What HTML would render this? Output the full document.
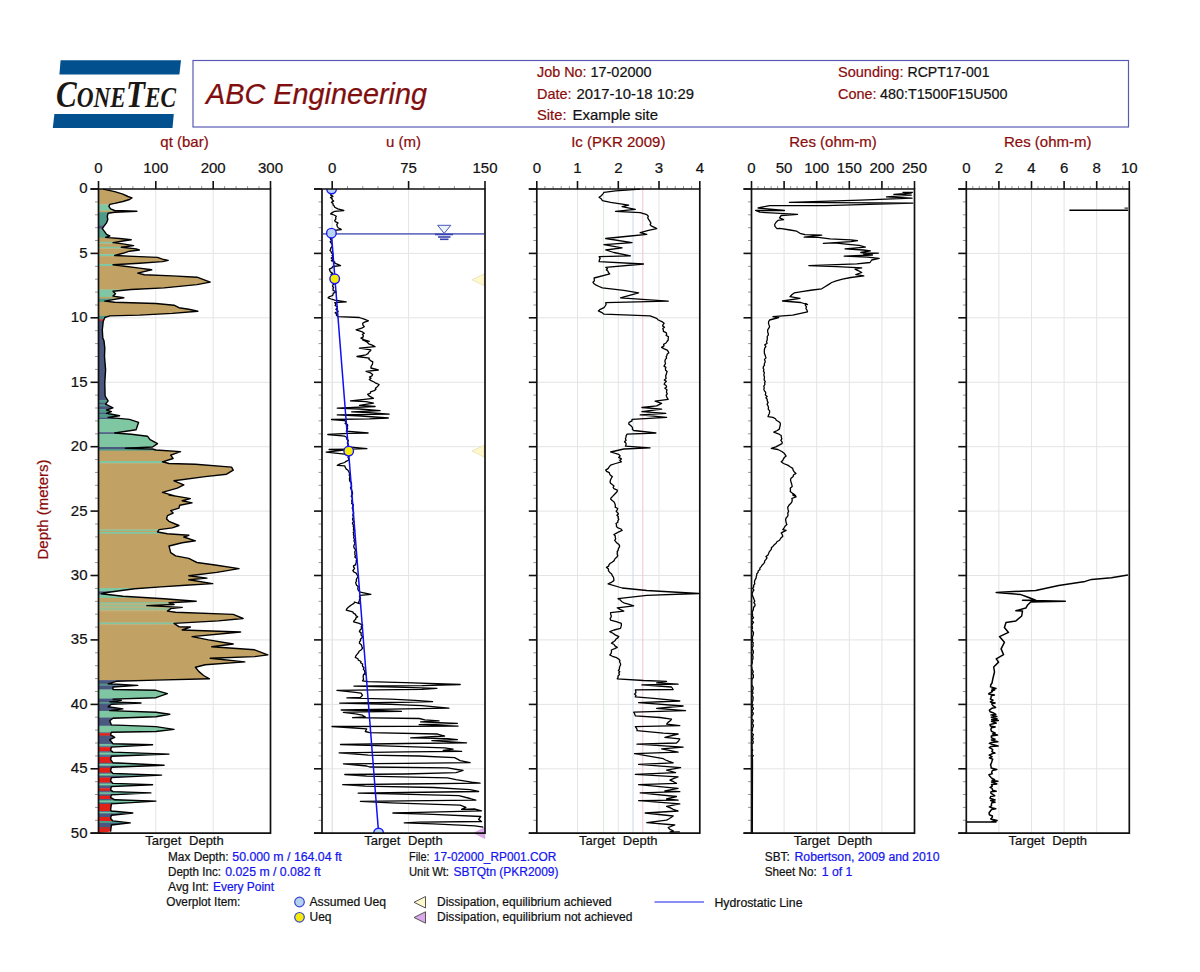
<!DOCTYPE html><html><head><meta charset="utf-8"><style>html,body{margin:0;padding:0;background:#fff;overflow:hidden;width:1200px;height:972px;}svg{display:block;}</style></head><body>
<svg width="1200" height="972" viewBox="0 0 1200 972" font-family="Liberation Sans, sans-serif">
<rect width="1200" height="972" fill="#fff"/>
<polygon points="60.6,60.2 181,60.2 179.4,74.4 59.4,74.4" fill="#03508F"/>
<polygon points="54.4,114 173.8,114 172.5,128.1 52.8,128.1" fill="#03508F"/>
<text x="56" y="107" font-family="Liberation Serif, serif" font-style="italic" font-weight="bold" fill="#1a1714" textLength="120" lengthAdjust="spacingAndGlyphs"><tspan font-size="38">C</tspan><tspan font-size="28.5">ONE</tspan><tspan font-size="38">T</tspan><tspan font-size="28.5">EC</tspan></text>
<rect x="193" y="60.5" width="935.5" height="66.5" fill="none" stroke="#5A5AB4" stroke-width="1.2"/>
<text x="206" y="104" font-size="29.5" font-style="italic" fill="#800E0E" textLength="221" lengthAdjust="spacingAndGlyphs" stroke="#800E0E" stroke-width="0.22">ABC Engineering</text>
<text x="537.0" y="77.0" font-size="15" fill="#8A0C0C" textLength="49.5" lengthAdjust="spacingAndGlyphs" stroke="#8A0C0C" stroke-width="0.22">Job No:</text>
<text x="590.5" y="77.0" font-size="15" fill="#111" textLength="61.0" lengthAdjust="spacingAndGlyphs" stroke="#111" stroke-width="0.22">17-02000</text>
<text x="537.0" y="98.5" font-size="15" fill="#8A0C0C" textLength="34.5" lengthAdjust="spacingAndGlyphs" stroke="#8A0C0C" stroke-width="0.22">Date:</text>
<text x="576.5" y="98.5" font-size="15" fill="#111" textLength="117.5" lengthAdjust="spacingAndGlyphs" stroke="#111" stroke-width="0.22">2017-10-18 10:29</text>
<text x="537.0" y="120.0" font-size="15" fill="#8A0C0C" textLength="29.5" lengthAdjust="spacingAndGlyphs" stroke="#8A0C0C" stroke-width="0.22">Site:</text>
<text x="572.5" y="120.0" font-size="15" fill="#111" textLength="85.5" lengthAdjust="spacingAndGlyphs" stroke="#111" stroke-width="0.22">Example site</text>
<text x="838.0" y="77.0" font-size="15" fill="#8A0C0C" textLength="65.5" lengthAdjust="spacingAndGlyphs" stroke="#8A0C0C" stroke-width="0.22">Sounding:</text>
<text x="907.5" y="77.0" font-size="15" fill="#111" textLength="82.0" lengthAdjust="spacingAndGlyphs" stroke="#111" stroke-width="0.22">RCPT17-001</text>
<text x="838.0" y="98.5" font-size="15" fill="#8A0C0C" textLength="38.5" lengthAdjust="spacingAndGlyphs" stroke="#8A0C0C" stroke-width="0.22">Cone:</text>
<text x="880.0" y="98.5" font-size="15" fill="#111" textLength="127.5" lengthAdjust="spacingAndGlyphs" stroke="#111" stroke-width="0.22">480:T1500F15U500</text>
<text transform="translate(47.5,509.5) rotate(-90)" text-anchor="middle" font-size="15" fill="#8A0C0C" stroke="#8A0C0C" stroke-width="0.22">Depth (meters)</text>
<text x="184.5" y="146.5" text-anchor="middle" font-size="15" fill="#8A0C0C" stroke="#8A0C0C" stroke-width="0.22">qt (bar)</text>
<text x="184.5" y="844.5" text-anchor="middle" font-size="13" fill="#111" word-spacing="4" stroke="#111" stroke-width="0.22">Target Depth</text>
<line x1="98.5" y1="253.4" x2="270.5" y2="253.4" stroke="#E4E4E4" stroke-width="1"/>
<line x1="98.5" y1="317.8" x2="270.5" y2="317.8" stroke="#E4E4E4" stroke-width="1"/>
<line x1="98.5" y1="382.3" x2="270.5" y2="382.3" stroke="#E4E4E4" stroke-width="1"/>
<line x1="98.5" y1="446.7" x2="270.5" y2="446.7" stroke="#E4E4E4" stroke-width="1"/>
<line x1="98.5" y1="511.1" x2="270.5" y2="511.1" stroke="#E4E4E4" stroke-width="1"/>
<line x1="98.5" y1="575.5" x2="270.5" y2="575.5" stroke="#E4E4E4" stroke-width="1"/>
<line x1="98.5" y1="639.9" x2="270.5" y2="639.9" stroke="#E4E4E4" stroke-width="1"/>
<line x1="98.5" y1="704.4" x2="270.5" y2="704.4" stroke="#E4E4E4" stroke-width="1"/>
<line x1="98.5" y1="768.8" x2="270.5" y2="768.8" stroke="#E4E4E4" stroke-width="1"/>
<line x1="155.8" y1="189.0" x2="155.8" y2="833.2" stroke="#E4E4E4" stroke-width="1"/>
<line x1="213.2" y1="189.0" x2="213.2" y2="833.2" stroke="#E4E4E4" stroke-width="1"/>
<text x="98.5" y="173" text-anchor="middle" font-size="15" fill="#111" stroke="#111" stroke-width="0.22">0</text>
<line x1="98.5" y1="181" x2="98.5" y2="189.0" stroke="#111" stroke-width="1.6"/>
<text x="155.8" y="173" text-anchor="middle" font-size="15" fill="#111" stroke="#111" stroke-width="0.22">100</text>
<line x1="155.8" y1="181" x2="155.8" y2="189.0" stroke="#111" stroke-width="1.6"/>
<text x="213.2" y="173" text-anchor="middle" font-size="15" fill="#111" stroke="#111" stroke-width="0.22">200</text>
<line x1="213.2" y1="181" x2="213.2" y2="189.0" stroke="#111" stroke-width="1.6"/>
<text x="270.5" y="173" text-anchor="middle" font-size="15" fill="#111" stroke="#111" stroke-width="0.22">300</text>
<line x1="270.5" y1="181" x2="270.5" y2="189.0" stroke="#111" stroke-width="1.6"/>
<line x1="110.0" y1="186" x2="110.0" y2="189.0" stroke="#999" stroke-width="1"/>
<line x1="121.4" y1="186" x2="121.4" y2="189.0" stroke="#999" stroke-width="1"/>
<line x1="132.9" y1="186" x2="132.9" y2="189.0" stroke="#999" stroke-width="1"/>
<line x1="144.4" y1="186" x2="144.4" y2="189.0" stroke="#999" stroke-width="1"/>
<line x1="167.3" y1="186" x2="167.3" y2="189.0" stroke="#999" stroke-width="1"/>
<line x1="178.8" y1="186" x2="178.8" y2="189.0" stroke="#999" stroke-width="1"/>
<line x1="190.2" y1="186" x2="190.2" y2="189.0" stroke="#999" stroke-width="1"/>
<line x1="201.7" y1="186" x2="201.7" y2="189.0" stroke="#999" stroke-width="1"/>
<line x1="224.6" y1="186" x2="224.6" y2="189.0" stroke="#999" stroke-width="1"/>
<line x1="236.1" y1="186" x2="236.1" y2="189.0" stroke="#999" stroke-width="1"/>
<line x1="247.6" y1="186" x2="247.6" y2="189.0" stroke="#999" stroke-width="1"/>
<line x1="259.0" y1="186" x2="259.0" y2="189.0" stroke="#999" stroke-width="1"/>
<line x1="90.5" y1="189.0" x2="98.5" y2="189.0" stroke="#111" stroke-width="1.6"/>
<line x1="95.0" y1="201.9" x2="98.5" y2="201.9" stroke="#999" stroke-width="1"/>
<line x1="95.0" y1="214.8" x2="98.5" y2="214.8" stroke="#999" stroke-width="1"/>
<line x1="95.0" y1="227.7" x2="98.5" y2="227.7" stroke="#999" stroke-width="1"/>
<line x1="95.0" y1="240.5" x2="98.5" y2="240.5" stroke="#999" stroke-width="1"/>
<line x1="90.5" y1="253.4" x2="98.5" y2="253.4" stroke="#111" stroke-width="1.6"/>
<line x1="95.0" y1="266.3" x2="98.5" y2="266.3" stroke="#999" stroke-width="1"/>
<line x1="95.0" y1="279.2" x2="98.5" y2="279.2" stroke="#999" stroke-width="1"/>
<line x1="95.0" y1="292.1" x2="98.5" y2="292.1" stroke="#999" stroke-width="1"/>
<line x1="95.0" y1="305.0" x2="98.5" y2="305.0" stroke="#999" stroke-width="1"/>
<line x1="90.5" y1="317.8" x2="98.5" y2="317.8" stroke="#111" stroke-width="1.6"/>
<line x1="95.0" y1="330.7" x2="98.5" y2="330.7" stroke="#999" stroke-width="1"/>
<line x1="95.0" y1="343.6" x2="98.5" y2="343.6" stroke="#999" stroke-width="1"/>
<line x1="95.0" y1="356.5" x2="98.5" y2="356.5" stroke="#999" stroke-width="1"/>
<line x1="95.0" y1="369.4" x2="98.5" y2="369.4" stroke="#999" stroke-width="1"/>
<line x1="90.5" y1="382.3" x2="98.5" y2="382.3" stroke="#111" stroke-width="1.6"/>
<line x1="95.0" y1="395.1" x2="98.5" y2="395.1" stroke="#999" stroke-width="1"/>
<line x1="95.0" y1="408.0" x2="98.5" y2="408.0" stroke="#999" stroke-width="1"/>
<line x1="95.0" y1="420.9" x2="98.5" y2="420.9" stroke="#999" stroke-width="1"/>
<line x1="95.0" y1="433.8" x2="98.5" y2="433.8" stroke="#999" stroke-width="1"/>
<line x1="90.5" y1="446.7" x2="98.5" y2="446.7" stroke="#111" stroke-width="1.6"/>
<line x1="95.0" y1="459.6" x2="98.5" y2="459.6" stroke="#999" stroke-width="1"/>
<line x1="95.0" y1="472.4" x2="98.5" y2="472.4" stroke="#999" stroke-width="1"/>
<line x1="95.0" y1="485.3" x2="98.5" y2="485.3" stroke="#999" stroke-width="1"/>
<line x1="95.0" y1="498.2" x2="98.5" y2="498.2" stroke="#999" stroke-width="1"/>
<line x1="90.5" y1="511.1" x2="98.5" y2="511.1" stroke="#111" stroke-width="1.6"/>
<line x1="95.0" y1="524.0" x2="98.5" y2="524.0" stroke="#999" stroke-width="1"/>
<line x1="95.0" y1="536.9" x2="98.5" y2="536.9" stroke="#999" stroke-width="1"/>
<line x1="95.0" y1="549.8" x2="98.5" y2="549.8" stroke="#999" stroke-width="1"/>
<line x1="95.0" y1="562.6" x2="98.5" y2="562.6" stroke="#999" stroke-width="1"/>
<line x1="90.5" y1="575.5" x2="98.5" y2="575.5" stroke="#111" stroke-width="1.6"/>
<line x1="95.0" y1="588.4" x2="98.5" y2="588.4" stroke="#999" stroke-width="1"/>
<line x1="95.0" y1="601.3" x2="98.5" y2="601.3" stroke="#999" stroke-width="1"/>
<line x1="95.0" y1="614.2" x2="98.5" y2="614.2" stroke="#999" stroke-width="1"/>
<line x1="95.0" y1="627.1" x2="98.5" y2="627.1" stroke="#999" stroke-width="1"/>
<line x1="90.5" y1="639.9" x2="98.5" y2="639.9" stroke="#111" stroke-width="1.6"/>
<line x1="95.0" y1="652.8" x2="98.5" y2="652.8" stroke="#999" stroke-width="1"/>
<line x1="95.0" y1="665.7" x2="98.5" y2="665.7" stroke="#999" stroke-width="1"/>
<line x1="95.0" y1="678.6" x2="98.5" y2="678.6" stroke="#999" stroke-width="1"/>
<line x1="95.0" y1="691.5" x2="98.5" y2="691.5" stroke="#999" stroke-width="1"/>
<line x1="90.5" y1="704.4" x2="98.5" y2="704.4" stroke="#111" stroke-width="1.6"/>
<line x1="95.0" y1="717.2" x2="98.5" y2="717.2" stroke="#999" stroke-width="1"/>
<line x1="95.0" y1="730.1" x2="98.5" y2="730.1" stroke="#999" stroke-width="1"/>
<line x1="95.0" y1="743.0" x2="98.5" y2="743.0" stroke="#999" stroke-width="1"/>
<line x1="95.0" y1="755.9" x2="98.5" y2="755.9" stroke="#999" stroke-width="1"/>
<line x1="90.5" y1="768.8" x2="98.5" y2="768.8" stroke="#111" stroke-width="1.6"/>
<line x1="95.0" y1="781.7" x2="98.5" y2="781.7" stroke="#999" stroke-width="1"/>
<line x1="95.0" y1="794.5" x2="98.5" y2="794.5" stroke="#999" stroke-width="1"/>
<line x1="95.0" y1="807.4" x2="98.5" y2="807.4" stroke="#999" stroke-width="1"/>
<line x1="95.0" y1="820.3" x2="98.5" y2="820.3" stroke="#999" stroke-width="1"/>
<line x1="90.5" y1="833.2" x2="98.5" y2="833.2" stroke="#111" stroke-width="1.6"/>
<text x="87.5" y="193.4" text-anchor="end" font-size="15" fill="#111" stroke="#111" stroke-width="0.22">0</text>
<text x="87.5" y="257.8" text-anchor="end" font-size="15" fill="#111" stroke="#111" stroke-width="0.22">5</text>
<text x="87.5" y="322.2" text-anchor="end" font-size="15" fill="#111" stroke="#111" stroke-width="0.22">10</text>
<text x="87.5" y="386.7" text-anchor="end" font-size="15" fill="#111" stroke="#111" stroke-width="0.22">15</text>
<text x="87.5" y="451.1" text-anchor="end" font-size="15" fill="#111" stroke="#111" stroke-width="0.22">20</text>
<text x="87.5" y="515.5" text-anchor="end" font-size="15" fill="#111" stroke="#111" stroke-width="0.22">25</text>
<text x="87.5" y="579.9" text-anchor="end" font-size="15" fill="#111" stroke="#111" stroke-width="0.22">30</text>
<text x="87.5" y="644.3" text-anchor="end" font-size="15" fill="#111" stroke="#111" stroke-width="0.22">35</text>
<text x="87.5" y="708.8" text-anchor="end" font-size="15" fill="#111" stroke="#111" stroke-width="0.22">40</text>
<text x="87.5" y="773.2" text-anchor="end" font-size="15" fill="#111" stroke="#111" stroke-width="0.22">45</text>
<text x="87.5" y="837.6" text-anchor="end" font-size="15" fill="#111" stroke="#111" stroke-width="0.22">50</text>
<text x="403.5" y="146.5" text-anchor="middle" font-size="15" fill="#8A0C0C" stroke="#8A0C0C" stroke-width="0.22">u (m)</text>
<text x="403.5" y="844.5" text-anchor="middle" font-size="13" fill="#111" word-spacing="4" stroke="#111" stroke-width="0.22">Target Depth</text>
<line x1="322.0" y1="253.4" x2="485.0" y2="253.4" stroke="#E4E4E4" stroke-width="1"/>
<line x1="322.0" y1="317.8" x2="485.0" y2="317.8" stroke="#E4E4E4" stroke-width="1"/>
<line x1="322.0" y1="382.3" x2="485.0" y2="382.3" stroke="#E4E4E4" stroke-width="1"/>
<line x1="322.0" y1="446.7" x2="485.0" y2="446.7" stroke="#E4E4E4" stroke-width="1"/>
<line x1="322.0" y1="511.1" x2="485.0" y2="511.1" stroke="#E4E4E4" stroke-width="1"/>
<line x1="322.0" y1="575.5" x2="485.0" y2="575.5" stroke="#E4E4E4" stroke-width="1"/>
<line x1="322.0" y1="639.9" x2="485.0" y2="639.9" stroke="#E4E4E4" stroke-width="1"/>
<line x1="322.0" y1="704.4" x2="485.0" y2="704.4" stroke="#E4E4E4" stroke-width="1"/>
<line x1="322.0" y1="768.8" x2="485.0" y2="768.8" stroke="#E4E4E4" stroke-width="1"/>
<line x1="332.2" y1="189.0" x2="332.2" y2="833.2" stroke="#E4E4E4" stroke-width="1"/>
<line x1="408.6" y1="189.0" x2="408.6" y2="833.2" stroke="#E4E4E4" stroke-width="1"/>
<line x1="332.2" y1="189.0" x2="332.2" y2="833.2" stroke="#E4E4E4" stroke-width="1"/>
<text x="332.2" y="173" text-anchor="middle" font-size="15" fill="#111" stroke="#111" stroke-width="0.22">0</text>
<line x1="332.2" y1="181" x2="332.2" y2="189.0" stroke="#111" stroke-width="1.6"/>
<text x="408.6" y="173" text-anchor="middle" font-size="15" fill="#111" stroke="#111" stroke-width="0.22">75</text>
<line x1="408.6" y1="181" x2="408.6" y2="189.0" stroke="#111" stroke-width="1.6"/>
<text x="485.0" y="173" text-anchor="middle" font-size="15" fill="#111" stroke="#111" stroke-width="0.22">150</text>
<line x1="485.0" y1="181" x2="485.0" y2="189.0" stroke="#111" stroke-width="1.6"/>
<line x1="347.5" y1="186" x2="347.5" y2="189.0" stroke="#999" stroke-width="1"/>
<line x1="362.8" y1="186" x2="362.8" y2="189.0" stroke="#999" stroke-width="1"/>
<line x1="378.0" y1="186" x2="378.0" y2="189.0" stroke="#999" stroke-width="1"/>
<line x1="393.3" y1="186" x2="393.3" y2="189.0" stroke="#999" stroke-width="1"/>
<line x1="423.9" y1="186" x2="423.9" y2="189.0" stroke="#999" stroke-width="1"/>
<line x1="439.2" y1="186" x2="439.2" y2="189.0" stroke="#999" stroke-width="1"/>
<line x1="454.4" y1="186" x2="454.4" y2="189.0" stroke="#999" stroke-width="1"/>
<line x1="469.7" y1="186" x2="469.7" y2="189.0" stroke="#999" stroke-width="1"/>
<line x1="314.0" y1="189.0" x2="322.0" y2="189.0" stroke="#111" stroke-width="1.6"/>
<line x1="318.5" y1="201.9" x2="322.0" y2="201.9" stroke="#999" stroke-width="1"/>
<line x1="318.5" y1="214.8" x2="322.0" y2="214.8" stroke="#999" stroke-width="1"/>
<line x1="318.5" y1="227.7" x2="322.0" y2="227.7" stroke="#999" stroke-width="1"/>
<line x1="318.5" y1="240.5" x2="322.0" y2="240.5" stroke="#999" stroke-width="1"/>
<line x1="314.0" y1="253.4" x2="322.0" y2="253.4" stroke="#111" stroke-width="1.6"/>
<line x1="318.5" y1="266.3" x2="322.0" y2="266.3" stroke="#999" stroke-width="1"/>
<line x1="318.5" y1="279.2" x2="322.0" y2="279.2" stroke="#999" stroke-width="1"/>
<line x1="318.5" y1="292.1" x2="322.0" y2="292.1" stroke="#999" stroke-width="1"/>
<line x1="318.5" y1="305.0" x2="322.0" y2="305.0" stroke="#999" stroke-width="1"/>
<line x1="314.0" y1="317.8" x2="322.0" y2="317.8" stroke="#111" stroke-width="1.6"/>
<line x1="318.5" y1="330.7" x2="322.0" y2="330.7" stroke="#999" stroke-width="1"/>
<line x1="318.5" y1="343.6" x2="322.0" y2="343.6" stroke="#999" stroke-width="1"/>
<line x1="318.5" y1="356.5" x2="322.0" y2="356.5" stroke="#999" stroke-width="1"/>
<line x1="318.5" y1="369.4" x2="322.0" y2="369.4" stroke="#999" stroke-width="1"/>
<line x1="314.0" y1="382.3" x2="322.0" y2="382.3" stroke="#111" stroke-width="1.6"/>
<line x1="318.5" y1="395.1" x2="322.0" y2="395.1" stroke="#999" stroke-width="1"/>
<line x1="318.5" y1="408.0" x2="322.0" y2="408.0" stroke="#999" stroke-width="1"/>
<line x1="318.5" y1="420.9" x2="322.0" y2="420.9" stroke="#999" stroke-width="1"/>
<line x1="318.5" y1="433.8" x2="322.0" y2="433.8" stroke="#999" stroke-width="1"/>
<line x1="314.0" y1="446.7" x2="322.0" y2="446.7" stroke="#111" stroke-width="1.6"/>
<line x1="318.5" y1="459.6" x2="322.0" y2="459.6" stroke="#999" stroke-width="1"/>
<line x1="318.5" y1="472.4" x2="322.0" y2="472.4" stroke="#999" stroke-width="1"/>
<line x1="318.5" y1="485.3" x2="322.0" y2="485.3" stroke="#999" stroke-width="1"/>
<line x1="318.5" y1="498.2" x2="322.0" y2="498.2" stroke="#999" stroke-width="1"/>
<line x1="314.0" y1="511.1" x2="322.0" y2="511.1" stroke="#111" stroke-width="1.6"/>
<line x1="318.5" y1="524.0" x2="322.0" y2="524.0" stroke="#999" stroke-width="1"/>
<line x1="318.5" y1="536.9" x2="322.0" y2="536.9" stroke="#999" stroke-width="1"/>
<line x1="318.5" y1="549.8" x2="322.0" y2="549.8" stroke="#999" stroke-width="1"/>
<line x1="318.5" y1="562.6" x2="322.0" y2="562.6" stroke="#999" stroke-width="1"/>
<line x1="314.0" y1="575.5" x2="322.0" y2="575.5" stroke="#111" stroke-width="1.6"/>
<line x1="318.5" y1="588.4" x2="322.0" y2="588.4" stroke="#999" stroke-width="1"/>
<line x1="318.5" y1="601.3" x2="322.0" y2="601.3" stroke="#999" stroke-width="1"/>
<line x1="318.5" y1="614.2" x2="322.0" y2="614.2" stroke="#999" stroke-width="1"/>
<line x1="318.5" y1="627.1" x2="322.0" y2="627.1" stroke="#999" stroke-width="1"/>
<line x1="314.0" y1="639.9" x2="322.0" y2="639.9" stroke="#111" stroke-width="1.6"/>
<line x1="318.5" y1="652.8" x2="322.0" y2="652.8" stroke="#999" stroke-width="1"/>
<line x1="318.5" y1="665.7" x2="322.0" y2="665.7" stroke="#999" stroke-width="1"/>
<line x1="318.5" y1="678.6" x2="322.0" y2="678.6" stroke="#999" stroke-width="1"/>
<line x1="318.5" y1="691.5" x2="322.0" y2="691.5" stroke="#999" stroke-width="1"/>
<line x1="314.0" y1="704.4" x2="322.0" y2="704.4" stroke="#111" stroke-width="1.6"/>
<line x1="318.5" y1="717.2" x2="322.0" y2="717.2" stroke="#999" stroke-width="1"/>
<line x1="318.5" y1="730.1" x2="322.0" y2="730.1" stroke="#999" stroke-width="1"/>
<line x1="318.5" y1="743.0" x2="322.0" y2="743.0" stroke="#999" stroke-width="1"/>
<line x1="318.5" y1="755.9" x2="322.0" y2="755.9" stroke="#999" stroke-width="1"/>
<line x1="314.0" y1="768.8" x2="322.0" y2="768.8" stroke="#111" stroke-width="1.6"/>
<line x1="318.5" y1="781.7" x2="322.0" y2="781.7" stroke="#999" stroke-width="1"/>
<line x1="318.5" y1="794.5" x2="322.0" y2="794.5" stroke="#999" stroke-width="1"/>
<line x1="318.5" y1="807.4" x2="322.0" y2="807.4" stroke="#999" stroke-width="1"/>
<line x1="318.5" y1="820.3" x2="322.0" y2="820.3" stroke="#999" stroke-width="1"/>
<line x1="314.0" y1="833.2" x2="322.0" y2="833.2" stroke="#111" stroke-width="1.6"/>
<text x="618.3" y="146.5" text-anchor="middle" font-size="15" fill="#8A0C0C" stroke="#8A0C0C" stroke-width="0.22">Ic (PKR 2009)</text>
<text x="618.3" y="844.5" text-anchor="middle" font-size="13" fill="#111" word-spacing="4" stroke="#111" stroke-width="0.22">Target Depth</text>
<line x1="536.8" y1="253.4" x2="699.8" y2="253.4" stroke="#E4E4E4" stroke-width="1"/>
<line x1="536.8" y1="317.8" x2="699.8" y2="317.8" stroke="#E4E4E4" stroke-width="1"/>
<line x1="536.8" y1="382.3" x2="699.8" y2="382.3" stroke="#E4E4E4" stroke-width="1"/>
<line x1="536.8" y1="446.7" x2="699.8" y2="446.7" stroke="#E4E4E4" stroke-width="1"/>
<line x1="536.8" y1="511.1" x2="699.8" y2="511.1" stroke="#E4E4E4" stroke-width="1"/>
<line x1="536.8" y1="575.5" x2="699.8" y2="575.5" stroke="#E4E4E4" stroke-width="1"/>
<line x1="536.8" y1="639.9" x2="699.8" y2="639.9" stroke="#E4E4E4" stroke-width="1"/>
<line x1="536.8" y1="704.4" x2="699.8" y2="704.4" stroke="#E4E4E4" stroke-width="1"/>
<line x1="536.8" y1="768.8" x2="699.8" y2="768.8" stroke="#E4E4E4" stroke-width="1"/>
<line x1="577.5" y1="189.0" x2="577.5" y2="833.2" stroke="#E4E4E4" stroke-width="1"/>
<line x1="618.3" y1="189.0" x2="618.3" y2="833.2" stroke="#E4E4E4" stroke-width="1"/>
<line x1="659.0" y1="189.0" x2="659.0" y2="833.2" stroke="#E4E4E4" stroke-width="1"/>
<line x1="603.6" y1="189.0" x2="603.6" y2="833.2" stroke="#D2EED8" stroke-width="1"/>
<line x1="633.0" y1="189.0" x2="633.0" y2="833.2" stroke="#C6DAF4" stroke-width="1"/>
<line x1="642.8" y1="189.0" x2="642.8" y2="833.2" stroke="#F2C2CC" stroke-width="1"/>
<text x="536.8" y="173" text-anchor="middle" font-size="15" fill="#111" stroke="#111" stroke-width="0.22">0</text>
<line x1="536.8" y1="181" x2="536.8" y2="189.0" stroke="#111" stroke-width="1.6"/>
<text x="577.5" y="173" text-anchor="middle" font-size="15" fill="#111" stroke="#111" stroke-width="0.22">1</text>
<line x1="577.5" y1="181" x2="577.5" y2="189.0" stroke="#111" stroke-width="1.6"/>
<text x="618.3" y="173" text-anchor="middle" font-size="15" fill="#111" stroke="#111" stroke-width="0.22">2</text>
<line x1="618.3" y1="181" x2="618.3" y2="189.0" stroke="#111" stroke-width="1.6"/>
<text x="659.0" y="173" text-anchor="middle" font-size="15" fill="#111" stroke="#111" stroke-width="0.22">3</text>
<line x1="659.0" y1="181" x2="659.0" y2="189.0" stroke="#111" stroke-width="1.6"/>
<text x="699.8" y="173" text-anchor="middle" font-size="15" fill="#111" stroke="#111" stroke-width="0.22">4</text>
<line x1="699.8" y1="181" x2="699.8" y2="189.0" stroke="#111" stroke-width="1.6"/>
<line x1="544.9" y1="186" x2="544.9" y2="189.0" stroke="#999" stroke-width="1"/>
<line x1="553.1" y1="186" x2="553.1" y2="189.0" stroke="#999" stroke-width="1"/>
<line x1="561.2" y1="186" x2="561.2" y2="189.0" stroke="#999" stroke-width="1"/>
<line x1="569.4" y1="186" x2="569.4" y2="189.0" stroke="#999" stroke-width="1"/>
<line x1="585.7" y1="186" x2="585.7" y2="189.0" stroke="#999" stroke-width="1"/>
<line x1="593.8" y1="186" x2="593.8" y2="189.0" stroke="#999" stroke-width="1"/>
<line x1="602.0" y1="186" x2="602.0" y2="189.0" stroke="#999" stroke-width="1"/>
<line x1="610.1" y1="186" x2="610.1" y2="189.0" stroke="#999" stroke-width="1"/>
<line x1="626.4" y1="186" x2="626.4" y2="189.0" stroke="#999" stroke-width="1"/>
<line x1="634.6" y1="186" x2="634.6" y2="189.0" stroke="#999" stroke-width="1"/>
<line x1="642.8" y1="186" x2="642.8" y2="189.0" stroke="#999" stroke-width="1"/>
<line x1="650.9" y1="186" x2="650.9" y2="189.0" stroke="#999" stroke-width="1"/>
<line x1="667.2" y1="186" x2="667.2" y2="189.0" stroke="#999" stroke-width="1"/>
<line x1="675.3" y1="186" x2="675.3" y2="189.0" stroke="#999" stroke-width="1"/>
<line x1="683.5" y1="186" x2="683.5" y2="189.0" stroke="#999" stroke-width="1"/>
<line x1="691.6" y1="186" x2="691.6" y2="189.0" stroke="#999" stroke-width="1"/>
<line x1="528.8" y1="189.0" x2="536.8" y2="189.0" stroke="#111" stroke-width="1.6"/>
<line x1="533.3" y1="201.9" x2="536.8" y2="201.9" stroke="#999" stroke-width="1"/>
<line x1="533.3" y1="214.8" x2="536.8" y2="214.8" stroke="#999" stroke-width="1"/>
<line x1="533.3" y1="227.7" x2="536.8" y2="227.7" stroke="#999" stroke-width="1"/>
<line x1="533.3" y1="240.5" x2="536.8" y2="240.5" stroke="#999" stroke-width="1"/>
<line x1="528.8" y1="253.4" x2="536.8" y2="253.4" stroke="#111" stroke-width="1.6"/>
<line x1="533.3" y1="266.3" x2="536.8" y2="266.3" stroke="#999" stroke-width="1"/>
<line x1="533.3" y1="279.2" x2="536.8" y2="279.2" stroke="#999" stroke-width="1"/>
<line x1="533.3" y1="292.1" x2="536.8" y2="292.1" stroke="#999" stroke-width="1"/>
<line x1="533.3" y1="305.0" x2="536.8" y2="305.0" stroke="#999" stroke-width="1"/>
<line x1="528.8" y1="317.8" x2="536.8" y2="317.8" stroke="#111" stroke-width="1.6"/>
<line x1="533.3" y1="330.7" x2="536.8" y2="330.7" stroke="#999" stroke-width="1"/>
<line x1="533.3" y1="343.6" x2="536.8" y2="343.6" stroke="#999" stroke-width="1"/>
<line x1="533.3" y1="356.5" x2="536.8" y2="356.5" stroke="#999" stroke-width="1"/>
<line x1="533.3" y1="369.4" x2="536.8" y2="369.4" stroke="#999" stroke-width="1"/>
<line x1="528.8" y1="382.3" x2="536.8" y2="382.3" stroke="#111" stroke-width="1.6"/>
<line x1="533.3" y1="395.1" x2="536.8" y2="395.1" stroke="#999" stroke-width="1"/>
<line x1="533.3" y1="408.0" x2="536.8" y2="408.0" stroke="#999" stroke-width="1"/>
<line x1="533.3" y1="420.9" x2="536.8" y2="420.9" stroke="#999" stroke-width="1"/>
<line x1="533.3" y1="433.8" x2="536.8" y2="433.8" stroke="#999" stroke-width="1"/>
<line x1="528.8" y1="446.7" x2="536.8" y2="446.7" stroke="#111" stroke-width="1.6"/>
<line x1="533.3" y1="459.6" x2="536.8" y2="459.6" stroke="#999" stroke-width="1"/>
<line x1="533.3" y1="472.4" x2="536.8" y2="472.4" stroke="#999" stroke-width="1"/>
<line x1="533.3" y1="485.3" x2="536.8" y2="485.3" stroke="#999" stroke-width="1"/>
<line x1="533.3" y1="498.2" x2="536.8" y2="498.2" stroke="#999" stroke-width="1"/>
<line x1="528.8" y1="511.1" x2="536.8" y2="511.1" stroke="#111" stroke-width="1.6"/>
<line x1="533.3" y1="524.0" x2="536.8" y2="524.0" stroke="#999" stroke-width="1"/>
<line x1="533.3" y1="536.9" x2="536.8" y2="536.9" stroke="#999" stroke-width="1"/>
<line x1="533.3" y1="549.8" x2="536.8" y2="549.8" stroke="#999" stroke-width="1"/>
<line x1="533.3" y1="562.6" x2="536.8" y2="562.6" stroke="#999" stroke-width="1"/>
<line x1="528.8" y1="575.5" x2="536.8" y2="575.5" stroke="#111" stroke-width="1.6"/>
<line x1="533.3" y1="588.4" x2="536.8" y2="588.4" stroke="#999" stroke-width="1"/>
<line x1="533.3" y1="601.3" x2="536.8" y2="601.3" stroke="#999" stroke-width="1"/>
<line x1="533.3" y1="614.2" x2="536.8" y2="614.2" stroke="#999" stroke-width="1"/>
<line x1="533.3" y1="627.1" x2="536.8" y2="627.1" stroke="#999" stroke-width="1"/>
<line x1="528.8" y1="639.9" x2="536.8" y2="639.9" stroke="#111" stroke-width="1.6"/>
<line x1="533.3" y1="652.8" x2="536.8" y2="652.8" stroke="#999" stroke-width="1"/>
<line x1="533.3" y1="665.7" x2="536.8" y2="665.7" stroke="#999" stroke-width="1"/>
<line x1="533.3" y1="678.6" x2="536.8" y2="678.6" stroke="#999" stroke-width="1"/>
<line x1="533.3" y1="691.5" x2="536.8" y2="691.5" stroke="#999" stroke-width="1"/>
<line x1="528.8" y1="704.4" x2="536.8" y2="704.4" stroke="#111" stroke-width="1.6"/>
<line x1="533.3" y1="717.2" x2="536.8" y2="717.2" stroke="#999" stroke-width="1"/>
<line x1="533.3" y1="730.1" x2="536.8" y2="730.1" stroke="#999" stroke-width="1"/>
<line x1="533.3" y1="743.0" x2="536.8" y2="743.0" stroke="#999" stroke-width="1"/>
<line x1="533.3" y1="755.9" x2="536.8" y2="755.9" stroke="#999" stroke-width="1"/>
<line x1="528.8" y1="768.8" x2="536.8" y2="768.8" stroke="#111" stroke-width="1.6"/>
<line x1="533.3" y1="781.7" x2="536.8" y2="781.7" stroke="#999" stroke-width="1"/>
<line x1="533.3" y1="794.5" x2="536.8" y2="794.5" stroke="#999" stroke-width="1"/>
<line x1="533.3" y1="807.4" x2="536.8" y2="807.4" stroke="#999" stroke-width="1"/>
<line x1="533.3" y1="820.3" x2="536.8" y2="820.3" stroke="#999" stroke-width="1"/>
<line x1="528.8" y1="833.2" x2="536.8" y2="833.2" stroke="#111" stroke-width="1.6"/>
<text x="833.0" y="146.5" text-anchor="middle" font-size="15" fill="#8A0C0C" stroke="#8A0C0C" stroke-width="0.22">Res (ohm-m)</text>
<text x="833.0" y="844.5" text-anchor="middle" font-size="13" fill="#111" word-spacing="4" stroke="#111" stroke-width="0.22">Target Depth</text>
<line x1="751.5" y1="253.4" x2="914.5" y2="253.4" stroke="#E4E4E4" stroke-width="1"/>
<line x1="751.5" y1="317.8" x2="914.5" y2="317.8" stroke="#E4E4E4" stroke-width="1"/>
<line x1="751.5" y1="382.3" x2="914.5" y2="382.3" stroke="#E4E4E4" stroke-width="1"/>
<line x1="751.5" y1="446.7" x2="914.5" y2="446.7" stroke="#E4E4E4" stroke-width="1"/>
<line x1="751.5" y1="511.1" x2="914.5" y2="511.1" stroke="#E4E4E4" stroke-width="1"/>
<line x1="751.5" y1="575.5" x2="914.5" y2="575.5" stroke="#E4E4E4" stroke-width="1"/>
<line x1="751.5" y1="639.9" x2="914.5" y2="639.9" stroke="#E4E4E4" stroke-width="1"/>
<line x1="751.5" y1="704.4" x2="914.5" y2="704.4" stroke="#E4E4E4" stroke-width="1"/>
<line x1="751.5" y1="768.8" x2="914.5" y2="768.8" stroke="#E4E4E4" stroke-width="1"/>
<line x1="784.1" y1="189.0" x2="784.1" y2="833.2" stroke="#E4E4E4" stroke-width="1"/>
<line x1="816.7" y1="189.0" x2="816.7" y2="833.2" stroke="#E4E4E4" stroke-width="1"/>
<line x1="849.3" y1="189.0" x2="849.3" y2="833.2" stroke="#E4E4E4" stroke-width="1"/>
<line x1="881.9" y1="189.0" x2="881.9" y2="833.2" stroke="#E4E4E4" stroke-width="1"/>
<text x="751.5" y="173" text-anchor="middle" font-size="15" fill="#111" stroke="#111" stroke-width="0.22">0</text>
<line x1="751.5" y1="181" x2="751.5" y2="189.0" stroke="#111" stroke-width="1.6"/>
<text x="784.1" y="173" text-anchor="middle" font-size="15" fill="#111" stroke="#111" stroke-width="0.22">50</text>
<line x1="784.1" y1="181" x2="784.1" y2="189.0" stroke="#111" stroke-width="1.6"/>
<text x="816.7" y="173" text-anchor="middle" font-size="15" fill="#111" stroke="#111" stroke-width="0.22">100</text>
<line x1="816.7" y1="181" x2="816.7" y2="189.0" stroke="#111" stroke-width="1.6"/>
<text x="849.3" y="173" text-anchor="middle" font-size="15" fill="#111" stroke="#111" stroke-width="0.22">150</text>
<line x1="849.3" y1="181" x2="849.3" y2="189.0" stroke="#111" stroke-width="1.6"/>
<text x="881.9" y="173" text-anchor="middle" font-size="15" fill="#111" stroke="#111" stroke-width="0.22">200</text>
<line x1="881.9" y1="181" x2="881.9" y2="189.0" stroke="#111" stroke-width="1.6"/>
<text x="914.5" y="173" text-anchor="middle" font-size="15" fill="#111" stroke="#111" stroke-width="0.22">250</text>
<line x1="914.5" y1="181" x2="914.5" y2="189.0" stroke="#111" stroke-width="1.6"/>
<line x1="758.0" y1="186" x2="758.0" y2="189.0" stroke="#999" stroke-width="1"/>
<line x1="764.5" y1="186" x2="764.5" y2="189.0" stroke="#999" stroke-width="1"/>
<line x1="771.1" y1="186" x2="771.1" y2="189.0" stroke="#999" stroke-width="1"/>
<line x1="777.6" y1="186" x2="777.6" y2="189.0" stroke="#999" stroke-width="1"/>
<line x1="790.6" y1="186" x2="790.6" y2="189.0" stroke="#999" stroke-width="1"/>
<line x1="797.1" y1="186" x2="797.1" y2="189.0" stroke="#999" stroke-width="1"/>
<line x1="803.7" y1="186" x2="803.7" y2="189.0" stroke="#999" stroke-width="1"/>
<line x1="810.2" y1="186" x2="810.2" y2="189.0" stroke="#999" stroke-width="1"/>
<line x1="823.2" y1="186" x2="823.2" y2="189.0" stroke="#999" stroke-width="1"/>
<line x1="829.7" y1="186" x2="829.7" y2="189.0" stroke="#999" stroke-width="1"/>
<line x1="836.3" y1="186" x2="836.3" y2="189.0" stroke="#999" stroke-width="1"/>
<line x1="842.8" y1="186" x2="842.8" y2="189.0" stroke="#999" stroke-width="1"/>
<line x1="855.8" y1="186" x2="855.8" y2="189.0" stroke="#999" stroke-width="1"/>
<line x1="862.3" y1="186" x2="862.3" y2="189.0" stroke="#999" stroke-width="1"/>
<line x1="868.9" y1="186" x2="868.9" y2="189.0" stroke="#999" stroke-width="1"/>
<line x1="875.4" y1="186" x2="875.4" y2="189.0" stroke="#999" stroke-width="1"/>
<line x1="888.4" y1="186" x2="888.4" y2="189.0" stroke="#999" stroke-width="1"/>
<line x1="894.9" y1="186" x2="894.9" y2="189.0" stroke="#999" stroke-width="1"/>
<line x1="901.5" y1="186" x2="901.5" y2="189.0" stroke="#999" stroke-width="1"/>
<line x1="908.0" y1="186" x2="908.0" y2="189.0" stroke="#999" stroke-width="1"/>
<line x1="743.5" y1="189.0" x2="751.5" y2="189.0" stroke="#111" stroke-width="1.6"/>
<line x1="748.0" y1="201.9" x2="751.5" y2="201.9" stroke="#999" stroke-width="1"/>
<line x1="748.0" y1="214.8" x2="751.5" y2="214.8" stroke="#999" stroke-width="1"/>
<line x1="748.0" y1="227.7" x2="751.5" y2="227.7" stroke="#999" stroke-width="1"/>
<line x1="748.0" y1="240.5" x2="751.5" y2="240.5" stroke="#999" stroke-width="1"/>
<line x1="743.5" y1="253.4" x2="751.5" y2="253.4" stroke="#111" stroke-width="1.6"/>
<line x1="748.0" y1="266.3" x2="751.5" y2="266.3" stroke="#999" stroke-width="1"/>
<line x1="748.0" y1="279.2" x2="751.5" y2="279.2" stroke="#999" stroke-width="1"/>
<line x1="748.0" y1="292.1" x2="751.5" y2="292.1" stroke="#999" stroke-width="1"/>
<line x1="748.0" y1="305.0" x2="751.5" y2="305.0" stroke="#999" stroke-width="1"/>
<line x1="743.5" y1="317.8" x2="751.5" y2="317.8" stroke="#111" stroke-width="1.6"/>
<line x1="748.0" y1="330.7" x2="751.5" y2="330.7" stroke="#999" stroke-width="1"/>
<line x1="748.0" y1="343.6" x2="751.5" y2="343.6" stroke="#999" stroke-width="1"/>
<line x1="748.0" y1="356.5" x2="751.5" y2="356.5" stroke="#999" stroke-width="1"/>
<line x1="748.0" y1="369.4" x2="751.5" y2="369.4" stroke="#999" stroke-width="1"/>
<line x1="743.5" y1="382.3" x2="751.5" y2="382.3" stroke="#111" stroke-width="1.6"/>
<line x1="748.0" y1="395.1" x2="751.5" y2="395.1" stroke="#999" stroke-width="1"/>
<line x1="748.0" y1="408.0" x2="751.5" y2="408.0" stroke="#999" stroke-width="1"/>
<line x1="748.0" y1="420.9" x2="751.5" y2="420.9" stroke="#999" stroke-width="1"/>
<line x1="748.0" y1="433.8" x2="751.5" y2="433.8" stroke="#999" stroke-width="1"/>
<line x1="743.5" y1="446.7" x2="751.5" y2="446.7" stroke="#111" stroke-width="1.6"/>
<line x1="748.0" y1="459.6" x2="751.5" y2="459.6" stroke="#999" stroke-width="1"/>
<line x1="748.0" y1="472.4" x2="751.5" y2="472.4" stroke="#999" stroke-width="1"/>
<line x1="748.0" y1="485.3" x2="751.5" y2="485.3" stroke="#999" stroke-width="1"/>
<line x1="748.0" y1="498.2" x2="751.5" y2="498.2" stroke="#999" stroke-width="1"/>
<line x1="743.5" y1="511.1" x2="751.5" y2="511.1" stroke="#111" stroke-width="1.6"/>
<line x1="748.0" y1="524.0" x2="751.5" y2="524.0" stroke="#999" stroke-width="1"/>
<line x1="748.0" y1="536.9" x2="751.5" y2="536.9" stroke="#999" stroke-width="1"/>
<line x1="748.0" y1="549.8" x2="751.5" y2="549.8" stroke="#999" stroke-width="1"/>
<line x1="748.0" y1="562.6" x2="751.5" y2="562.6" stroke="#999" stroke-width="1"/>
<line x1="743.5" y1="575.5" x2="751.5" y2="575.5" stroke="#111" stroke-width="1.6"/>
<line x1="748.0" y1="588.4" x2="751.5" y2="588.4" stroke="#999" stroke-width="1"/>
<line x1="748.0" y1="601.3" x2="751.5" y2="601.3" stroke="#999" stroke-width="1"/>
<line x1="748.0" y1="614.2" x2="751.5" y2="614.2" stroke="#999" stroke-width="1"/>
<line x1="748.0" y1="627.1" x2="751.5" y2="627.1" stroke="#999" stroke-width="1"/>
<line x1="743.5" y1="639.9" x2="751.5" y2="639.9" stroke="#111" stroke-width="1.6"/>
<line x1="748.0" y1="652.8" x2="751.5" y2="652.8" stroke="#999" stroke-width="1"/>
<line x1="748.0" y1="665.7" x2="751.5" y2="665.7" stroke="#999" stroke-width="1"/>
<line x1="748.0" y1="678.6" x2="751.5" y2="678.6" stroke="#999" stroke-width="1"/>
<line x1="748.0" y1="691.5" x2="751.5" y2="691.5" stroke="#999" stroke-width="1"/>
<line x1="743.5" y1="704.4" x2="751.5" y2="704.4" stroke="#111" stroke-width="1.6"/>
<line x1="748.0" y1="717.2" x2="751.5" y2="717.2" stroke="#999" stroke-width="1"/>
<line x1="748.0" y1="730.1" x2="751.5" y2="730.1" stroke="#999" stroke-width="1"/>
<line x1="748.0" y1="743.0" x2="751.5" y2="743.0" stroke="#999" stroke-width="1"/>
<line x1="748.0" y1="755.9" x2="751.5" y2="755.9" stroke="#999" stroke-width="1"/>
<line x1="743.5" y1="768.8" x2="751.5" y2="768.8" stroke="#111" stroke-width="1.6"/>
<line x1="748.0" y1="781.7" x2="751.5" y2="781.7" stroke="#999" stroke-width="1"/>
<line x1="748.0" y1="794.5" x2="751.5" y2="794.5" stroke="#999" stroke-width="1"/>
<line x1="748.0" y1="807.4" x2="751.5" y2="807.4" stroke="#999" stroke-width="1"/>
<line x1="748.0" y1="820.3" x2="751.5" y2="820.3" stroke="#999" stroke-width="1"/>
<line x1="743.5" y1="833.2" x2="751.5" y2="833.2" stroke="#111" stroke-width="1.6"/>
<text x="1047.8" y="146.5" text-anchor="middle" font-size="15" fill="#8A0C0C" stroke="#8A0C0C" stroke-width="0.22">Res (ohm-m)</text>
<text x="1047.8" y="844.5" text-anchor="middle" font-size="13" fill="#111" word-spacing="4" stroke="#111" stroke-width="0.22">Target Depth</text>
<line x1="966.3" y1="253.4" x2="1129.3" y2="253.4" stroke="#E4E4E4" stroke-width="1"/>
<line x1="966.3" y1="317.8" x2="1129.3" y2="317.8" stroke="#E4E4E4" stroke-width="1"/>
<line x1="966.3" y1="382.3" x2="1129.3" y2="382.3" stroke="#E4E4E4" stroke-width="1"/>
<line x1="966.3" y1="446.7" x2="1129.3" y2="446.7" stroke="#E4E4E4" stroke-width="1"/>
<line x1="966.3" y1="511.1" x2="1129.3" y2="511.1" stroke="#E4E4E4" stroke-width="1"/>
<line x1="966.3" y1="575.5" x2="1129.3" y2="575.5" stroke="#E4E4E4" stroke-width="1"/>
<line x1="966.3" y1="639.9" x2="1129.3" y2="639.9" stroke="#E4E4E4" stroke-width="1"/>
<line x1="966.3" y1="704.4" x2="1129.3" y2="704.4" stroke="#E4E4E4" stroke-width="1"/>
<line x1="966.3" y1="768.8" x2="1129.3" y2="768.8" stroke="#E4E4E4" stroke-width="1"/>
<line x1="998.9" y1="189.0" x2="998.9" y2="833.2" stroke="#E4E4E4" stroke-width="1"/>
<line x1="1031.5" y1="189.0" x2="1031.5" y2="833.2" stroke="#E4E4E4" stroke-width="1"/>
<line x1="1064.1" y1="189.0" x2="1064.1" y2="833.2" stroke="#E4E4E4" stroke-width="1"/>
<line x1="1096.7" y1="189.0" x2="1096.7" y2="833.2" stroke="#E4E4E4" stroke-width="1"/>
<text x="966.3" y="173" text-anchor="middle" font-size="15" fill="#111" stroke="#111" stroke-width="0.22">0</text>
<line x1="966.3" y1="181" x2="966.3" y2="189.0" stroke="#111" stroke-width="1.6"/>
<text x="998.9" y="173" text-anchor="middle" font-size="15" fill="#111" stroke="#111" stroke-width="0.22">2</text>
<line x1="998.9" y1="181" x2="998.9" y2="189.0" stroke="#111" stroke-width="1.6"/>
<text x="1031.5" y="173" text-anchor="middle" font-size="15" fill="#111" stroke="#111" stroke-width="0.22">4</text>
<line x1="1031.5" y1="181" x2="1031.5" y2="189.0" stroke="#111" stroke-width="1.6"/>
<text x="1064.1" y="173" text-anchor="middle" font-size="15" fill="#111" stroke="#111" stroke-width="0.22">6</text>
<line x1="1064.1" y1="181" x2="1064.1" y2="189.0" stroke="#111" stroke-width="1.6"/>
<text x="1096.7" y="173" text-anchor="middle" font-size="15" fill="#111" stroke="#111" stroke-width="0.22">8</text>
<line x1="1096.7" y1="181" x2="1096.7" y2="189.0" stroke="#111" stroke-width="1.6"/>
<text x="1129.3" y="173" text-anchor="middle" font-size="15" fill="#111" stroke="#111" stroke-width="0.22">10</text>
<line x1="1129.3" y1="181" x2="1129.3" y2="189.0" stroke="#111" stroke-width="1.6"/>
<line x1="972.8" y1="186" x2="972.8" y2="189.0" stroke="#999" stroke-width="1"/>
<line x1="979.3" y1="186" x2="979.3" y2="189.0" stroke="#999" stroke-width="1"/>
<line x1="985.9" y1="186" x2="985.9" y2="189.0" stroke="#999" stroke-width="1"/>
<line x1="992.4" y1="186" x2="992.4" y2="189.0" stroke="#999" stroke-width="1"/>
<line x1="1005.4" y1="186" x2="1005.4" y2="189.0" stroke="#999" stroke-width="1"/>
<line x1="1011.9" y1="186" x2="1011.9" y2="189.0" stroke="#999" stroke-width="1"/>
<line x1="1018.5" y1="186" x2="1018.5" y2="189.0" stroke="#999" stroke-width="1"/>
<line x1="1025.0" y1="186" x2="1025.0" y2="189.0" stroke="#999" stroke-width="1"/>
<line x1="1038.0" y1="186" x2="1038.0" y2="189.0" stroke="#999" stroke-width="1"/>
<line x1="1044.5" y1="186" x2="1044.5" y2="189.0" stroke="#999" stroke-width="1"/>
<line x1="1051.1" y1="186" x2="1051.1" y2="189.0" stroke="#999" stroke-width="1"/>
<line x1="1057.6" y1="186" x2="1057.6" y2="189.0" stroke="#999" stroke-width="1"/>
<line x1="1070.6" y1="186" x2="1070.6" y2="189.0" stroke="#999" stroke-width="1"/>
<line x1="1077.1" y1="186" x2="1077.1" y2="189.0" stroke="#999" stroke-width="1"/>
<line x1="1083.7" y1="186" x2="1083.7" y2="189.0" stroke="#999" stroke-width="1"/>
<line x1="1090.2" y1="186" x2="1090.2" y2="189.0" stroke="#999" stroke-width="1"/>
<line x1="1103.2" y1="186" x2="1103.2" y2="189.0" stroke="#999" stroke-width="1"/>
<line x1="1109.7" y1="186" x2="1109.7" y2="189.0" stroke="#999" stroke-width="1"/>
<line x1="1116.3" y1="186" x2="1116.3" y2="189.0" stroke="#999" stroke-width="1"/>
<line x1="1122.8" y1="186" x2="1122.8" y2="189.0" stroke="#999" stroke-width="1"/>
<line x1="958.3" y1="189.0" x2="966.3" y2="189.0" stroke="#111" stroke-width="1.6"/>
<line x1="962.8" y1="201.9" x2="966.3" y2="201.9" stroke="#999" stroke-width="1"/>
<line x1="962.8" y1="214.8" x2="966.3" y2="214.8" stroke="#999" stroke-width="1"/>
<line x1="962.8" y1="227.7" x2="966.3" y2="227.7" stroke="#999" stroke-width="1"/>
<line x1="962.8" y1="240.5" x2="966.3" y2="240.5" stroke="#999" stroke-width="1"/>
<line x1="958.3" y1="253.4" x2="966.3" y2="253.4" stroke="#111" stroke-width="1.6"/>
<line x1="962.8" y1="266.3" x2="966.3" y2="266.3" stroke="#999" stroke-width="1"/>
<line x1="962.8" y1="279.2" x2="966.3" y2="279.2" stroke="#999" stroke-width="1"/>
<line x1="962.8" y1="292.1" x2="966.3" y2="292.1" stroke="#999" stroke-width="1"/>
<line x1="962.8" y1="305.0" x2="966.3" y2="305.0" stroke="#999" stroke-width="1"/>
<line x1="958.3" y1="317.8" x2="966.3" y2="317.8" stroke="#111" stroke-width="1.6"/>
<line x1="962.8" y1="330.7" x2="966.3" y2="330.7" stroke="#999" stroke-width="1"/>
<line x1="962.8" y1="343.6" x2="966.3" y2="343.6" stroke="#999" stroke-width="1"/>
<line x1="962.8" y1="356.5" x2="966.3" y2="356.5" stroke="#999" stroke-width="1"/>
<line x1="962.8" y1="369.4" x2="966.3" y2="369.4" stroke="#999" stroke-width="1"/>
<line x1="958.3" y1="382.3" x2="966.3" y2="382.3" stroke="#111" stroke-width="1.6"/>
<line x1="962.8" y1="395.1" x2="966.3" y2="395.1" stroke="#999" stroke-width="1"/>
<line x1="962.8" y1="408.0" x2="966.3" y2="408.0" stroke="#999" stroke-width="1"/>
<line x1="962.8" y1="420.9" x2="966.3" y2="420.9" stroke="#999" stroke-width="1"/>
<line x1="962.8" y1="433.8" x2="966.3" y2="433.8" stroke="#999" stroke-width="1"/>
<line x1="958.3" y1="446.7" x2="966.3" y2="446.7" stroke="#111" stroke-width="1.6"/>
<line x1="962.8" y1="459.6" x2="966.3" y2="459.6" stroke="#999" stroke-width="1"/>
<line x1="962.8" y1="472.4" x2="966.3" y2="472.4" stroke="#999" stroke-width="1"/>
<line x1="962.8" y1="485.3" x2="966.3" y2="485.3" stroke="#999" stroke-width="1"/>
<line x1="962.8" y1="498.2" x2="966.3" y2="498.2" stroke="#999" stroke-width="1"/>
<line x1="958.3" y1="511.1" x2="966.3" y2="511.1" stroke="#111" stroke-width="1.6"/>
<line x1="962.8" y1="524.0" x2="966.3" y2="524.0" stroke="#999" stroke-width="1"/>
<line x1="962.8" y1="536.9" x2="966.3" y2="536.9" stroke="#999" stroke-width="1"/>
<line x1="962.8" y1="549.8" x2="966.3" y2="549.8" stroke="#999" stroke-width="1"/>
<line x1="962.8" y1="562.6" x2="966.3" y2="562.6" stroke="#999" stroke-width="1"/>
<line x1="958.3" y1="575.5" x2="966.3" y2="575.5" stroke="#111" stroke-width="1.6"/>
<line x1="962.8" y1="588.4" x2="966.3" y2="588.4" stroke="#999" stroke-width="1"/>
<line x1="962.8" y1="601.3" x2="966.3" y2="601.3" stroke="#999" stroke-width="1"/>
<line x1="962.8" y1="614.2" x2="966.3" y2="614.2" stroke="#999" stroke-width="1"/>
<line x1="962.8" y1="627.1" x2="966.3" y2="627.1" stroke="#999" stroke-width="1"/>
<line x1="958.3" y1="639.9" x2="966.3" y2="639.9" stroke="#111" stroke-width="1.6"/>
<line x1="962.8" y1="652.8" x2="966.3" y2="652.8" stroke="#999" stroke-width="1"/>
<line x1="962.8" y1="665.7" x2="966.3" y2="665.7" stroke="#999" stroke-width="1"/>
<line x1="962.8" y1="678.6" x2="966.3" y2="678.6" stroke="#999" stroke-width="1"/>
<line x1="962.8" y1="691.5" x2="966.3" y2="691.5" stroke="#999" stroke-width="1"/>
<line x1="958.3" y1="704.4" x2="966.3" y2="704.4" stroke="#111" stroke-width="1.6"/>
<line x1="962.8" y1="717.2" x2="966.3" y2="717.2" stroke="#999" stroke-width="1"/>
<line x1="962.8" y1="730.1" x2="966.3" y2="730.1" stroke="#999" stroke-width="1"/>
<line x1="962.8" y1="743.0" x2="966.3" y2="743.0" stroke="#999" stroke-width="1"/>
<line x1="962.8" y1="755.9" x2="966.3" y2="755.9" stroke="#999" stroke-width="1"/>
<line x1="958.3" y1="768.8" x2="966.3" y2="768.8" stroke="#111" stroke-width="1.6"/>
<line x1="962.8" y1="781.7" x2="966.3" y2="781.7" stroke="#999" stroke-width="1"/>
<line x1="962.8" y1="794.5" x2="966.3" y2="794.5" stroke="#999" stroke-width="1"/>
<line x1="962.8" y1="807.4" x2="966.3" y2="807.4" stroke="#999" stroke-width="1"/>
<line x1="962.8" y1="820.3" x2="966.3" y2="820.3" stroke="#999" stroke-width="1"/>
<line x1="958.3" y1="833.2" x2="966.3" y2="833.2" stroke="#111" stroke-width="1.6"/>
<clipPath id="qc"><polygon points="98.5,189.0 103.2,189.1 114.7,191.6 122.9,194.1 127.9,196.5 132.0,197.8 129.5,199.5 122.9,201.5 114.7,203.4 109.8,204.4 108.9,206.4 110.6,208.9 114.7,210.5 136.9,211.3 114.7,212.2 108.1,213.3 107.3,216.3 107.8,219.6 106.5,222.9 104.0,226.2 102.3,228.6 104.8,231.9 106.5,234.4 109.8,236.0 105.6,237.4 119.6,238.5 131.2,239.7 122.9,241.0 113.0,242.6 122.9,243.9 133.6,245.6 121.3,247.2 136.1,248.9 139.4,250.0 129.5,251.2 122.9,253.3 114.7,255.5 139.4,256.6 157.5,257.4 162.4,259.1 168.2,260.4 162.4,261.6 139.4,263.2 113.0,264.8 122.9,266.0 139.4,268.1 151.7,269.8 137.7,273.1 144.3,274.7 172.3,275.9 197.0,277.2 203.6,279.7 210.2,282.1 197.0,284.6 164.1,287.9 131.2,289.5 113.0,291.2 115.5,293.7 113.0,296.1 123.8,297.8 114.7,299.4 104.8,301.1 114.7,302.2 155.9,303.5 174.0,305.2 178.9,307.7 188.8,309.3 197.8,311.3 172.3,313.4 139.4,315.1 109.8,315.9 104.8,317.5 103.2,321.6 102.3,329.9 102.8,338.1 104.0,340.8 104.8,348.2 104.5,356.5 105.6,369.6 104.8,382.8 105.1,396.0 108.1,400.9 105.6,404.2 113.0,407.8 106.5,410.0 111.4,411.6 106.5,413.3 119.6,415.7 108.1,417.4 129.5,419.4 138.6,422.3 136.1,429.7 114.7,433.0 131.2,434.2 147.6,436.3 150.1,439.6 157.5,443.7 152.6,447.0 125.4,448.2 152.6,449.0 155.9,450.0 180.5,451.6 170.7,455.2 173.1,458.5 162.4,461.8 169.0,463.5 195.4,464.3 231.6,467.1 233.2,470.1 226.6,474.2 205.2,476.6 174.0,480.8 183.8,484.9 177.3,488.2 162.4,492.3 175.6,496.1 169.0,495.0 178.9,496.6 190.4,498.6 182.2,500.8 192.1,502.9 179.7,505.2 178.9,508.2 170.7,510.6 173.1,513.1 167.4,515.6 166.6,518.9 169.0,521.3 178.9,525.5 172.3,527.9 159.1,529.6 157.5,532.0 167.4,533.7 188.8,535.3 183.8,537.0 195.4,540.8 182.2,542.7 169.0,546.0 170.7,552.6 175.6,555.9 188.8,558.4 193.7,560.9 197.0,562.5 215.1,565.0 239.0,568.6 216.8,572.4 188.8,575.7 206.9,578.1 188.8,579.8 212.7,583.6 185.5,585.2 160.8,586.9 134.5,588.8 103.2,593.0 101.5,593.8 122.9,596.3 164.1,598.7 196.2,601.2 169.0,602.8 174.0,604.5 146.8,605.6 182.2,607.4 170.7,608.6 167.4,611.1 175.6,612.2 233.2,614.4 243.1,618.5 218.4,620.9 174.0,623.4 178.9,626.7 190.4,627.0 182.2,630.0 240.6,632.0 192.1,636.6 208.5,639.9 233.2,644.0 211.8,646.8 254.6,649.8 267.8,654.9 254.6,656.6 210.2,658.2 244.8,661.9 205.2,664.8 195.4,667.3 198.7,671.4 203.6,675.5 209.4,678.8 155.9,680.1 116.3,681.3 108.1,683.8 137.7,685.4 113.0,687.0 113.0,689.5 155.9,690.3 167.4,693.6 155.9,697.7 113.0,699.1 121.3,700.2 109.8,701.9 141.0,703.0 111.4,704.3 108.1,706.8 122.9,708.9 109.8,710.6 155.9,712.2 169.8,714.2 155.9,716.7 113.0,718.3 109.8,720.8 111.4,724.9 155.9,726.6 174.0,729.4 155.9,731.5 111.4,732.3 110.6,734.8 114.7,737.3 109.8,739.7 113.0,743.8 152.6,744.7 111.4,747.1 110.6,750.4 113.0,752.1 169.0,754.1 111.4,756.2 110.6,759.5 113.0,762.8 164.1,765.2 111.4,767.2 110.6,771.0 113.0,773.5 161.6,775.1 111.4,777.6 110.6,780.9 113.0,783.4 152.6,784.7 111.4,786.6 110.6,789.9 113.0,791.6 150.9,792.9 111.4,794.9 110.6,797.3 114.7,799.8 155.9,801.1 111.4,803.9 110.6,810.0 111.4,811.0 132.8,813.0 111.4,815.2 110.6,818.4 113.0,820.9 130.3,822.9 111.4,825.0 110.6,831.6 98.5,833.2"/></clipPath>
<g clip-path="url(#qc)">
<rect x="98" y="189.00" width="180" height="15.73" fill="#C2A264"/>
<rect x="98" y="204.43" width="180" height="6.39" fill="#7EC7A2"/>
<rect x="98" y="210.52" width="180" height="1.95" fill="#C2A264"/>
<rect x="98" y="212.16" width="180" height="13.47" fill="#4E9A88"/>
<rect x="98" y="225.34" width="180" height="3.59" fill="#4A5880"/>
<rect x="98" y="228.63" width="180" height="9.35" fill="#5AA890"/>
<rect x="98" y="237.68" width="180" height="4.42" fill="#C2A264"/>
<rect x="98" y="241.80" width="180" height="1.95" fill="#7EC7A2"/>
<rect x="98" y="243.45" width="180" height="3.59" fill="#C2A264"/>
<rect x="98" y="246.74" width="180" height="1.95" fill="#7EC7A2"/>
<rect x="98" y="248.38" width="180" height="6.06" fill="#C2A264"/>
<rect x="98" y="254.15" width="180" height="2.28" fill="#7EC7A2"/>
<rect x="98" y="256.12" width="180" height="8.20" fill="#C2A264"/>
<rect x="98" y="264.03" width="180" height="2.28" fill="#7EC7A2"/>
<rect x="98" y="266.00" width="180" height="23.84" fill="#C2A264"/>
<rect x="98" y="289.54" width="180" height="7.71" fill="#7EC7A2"/>
<rect x="98" y="296.95" width="180" height="1.95" fill="#C2A264"/>
<rect x="98" y="298.60" width="180" height="3.59" fill="#4E9A88"/>
<rect x="98" y="301.89" width="180" height="14.29" fill="#C2A264"/>
<rect x="98" y="315.89" width="180" height="3.59" fill="#4E9A88"/>
<rect x="98" y="319.18" width="180" height="1.95" fill="#E22119"/>
<rect x="98" y="320.82" width="180" height="79.57" fill="#4A5880"/>
<rect x="98" y="400.09" width="180" height="2.77" fill="#4E9A88"/>
<rect x="98" y="402.56" width="180" height="2.28" fill="#4A5880"/>
<rect x="98" y="404.54" width="180" height="1.95" fill="#4E9A88"/>
<rect x="98" y="406.18" width="180" height="3.26" fill="#4A5880"/>
<rect x="98" y="409.15" width="180" height="3.59" fill="#4E9A88"/>
<rect x="98" y="412.44" width="180" height="1.95" fill="#4A5880"/>
<rect x="98" y="414.09" width="180" height="3.59" fill="#4E9A88"/>
<rect x="98" y="417.38" width="180" height="1.95" fill="#4A5880"/>
<rect x="98" y="419.03" width="180" height="13.47" fill="#7EC7A2"/>
<rect x="98" y="432.20" width="180" height="1.95" fill="#4A5880"/>
<rect x="98" y="433.84" width="180" height="13.47" fill="#7EC7A2"/>
<rect x="98" y="447.01" width="180" height="2.28" fill="#4A5880"/>
<rect x="98" y="448.99" width="180" height="1.95" fill="#4E9A88"/>
<rect x="98" y="450.64" width="180" height="10.67" fill="#C2A264"/>
<rect x="98" y="461.01" width="180" height="2.44" fill="#7EC7A2"/>
<rect x="98" y="463.15" width="180" height="66.73" fill="#C2A264"/>
<rect x="98" y="529.57" width="180" height="1.62" fill="#7EC7A2"/>
<rect x="98" y="530.89" width="180" height="1.45" fill="#C2A264"/>
<rect x="98" y="532.04" width="180" height="1.95" fill="#7EC7A2"/>
<rect x="98" y="533.69" width="180" height="54.63" fill="#C2A264"/>
<rect x="98" y="588.02" width="180" height="3.59" fill="#7EC7A2"/>
<rect x="98" y="591.31" width="180" height="3.59" fill="#4A5880"/>
<rect x="98" y="594.60" width="180" height="3.59" fill="#7EC7A2"/>
<rect x="98" y="597.90" width="180" height="4.42" fill="#C2A264"/>
<rect x="98" y="602.01" width="180" height="1.06" fill="#7EC7A2"/>
<rect x="98" y="602.77" width="180" height="1.06" fill="#C2A264"/>
<rect x="98" y="603.53" width="180" height="1.06" fill="#7EC7A2"/>
<rect x="98" y="604.29" width="180" height="1.06" fill="#C2A264"/>
<rect x="98" y="605.04" width="180" height="1.06" fill="#7EC7A2"/>
<rect x="98" y="605.80" width="180" height="1.06" fill="#C2A264"/>
<rect x="98" y="606.56" width="180" height="1.06" fill="#7EC7A2"/>
<rect x="98" y="607.31" width="180" height="1.06" fill="#C2A264"/>
<rect x="98" y="608.07" width="180" height="1.06" fill="#7EC7A2"/>
<rect x="98" y="608.83" width="180" height="1.06" fill="#C2A264"/>
<rect x="98" y="609.59" width="180" height="1.06" fill="#7EC7A2"/>
<rect x="98" y="610.34" width="180" height="1.06" fill="#C2A264"/>
<rect x="98" y="611.07" width="180" height="11.82" fill="#C2A264"/>
<rect x="98" y="622.59" width="180" height="1.95" fill="#7EC7A2"/>
<rect x="98" y="624.24" width="180" height="56.19" fill="#C2A264"/>
<rect x="98" y="680.13" width="180" height="3.92" fill="#4A5880"/>
<rect x="98" y="683.75" width="180" height="1.95" fill="#4E9A88"/>
<rect x="98" y="685.40" width="180" height="4.42" fill="#4A5880"/>
<rect x="98" y="689.51" width="180" height="9.35" fill="#7EC7A2"/>
<rect x="98" y="698.57" width="180" height="4.09" fill="#4A5880"/>
<rect x="98" y="702.35" width="180" height="1.62" fill="#4E9A88"/>
<rect x="98" y="703.67" width="180" height="7.54" fill="#4A5880"/>
<rect x="98" y="710.92" width="180" height="6.89" fill="#7EC7A2"/>
<rect x="98" y="717.50" width="180" height="8.53" fill="#4A5880"/>
<rect x="98" y="725.73" width="180" height="6.89" fill="#7EC7A2"/>
<rect x="98" y="732.32" width="180" height="1.12" fill="#4A5880"/>
<rect x="98" y="733.14" width="180" height="2.77" fill="#E22119"/>
<rect x="98" y="735.61" width="180" height="7.71" fill="#4A5880"/>
<rect x="98" y="743.02" width="180" height="1.12" fill="#4A5880"/>
<rect x="98" y="743.84" width="180" height="0.92" fill="#4E9A88"/>
<rect x="98" y="744.46" width="180" height="1.33" fill="#7CCDA6"/>
<rect x="98" y="745.49" width="180" height="1.12" fill="#4E9A88"/>
<rect x="98" y="746.31" width="180" height="1.12" fill="#4A5880"/>
<rect x="98" y="747.14" width="180" height="4.42" fill="#E22119"/>
<rect x="98" y="751.25" width="180" height="1.29" fill="#4A5880"/>
<rect x="98" y="752.24" width="180" height="1.04" fill="#4E9A88"/>
<rect x="98" y="752.98" width="180" height="1.53" fill="#7CCDA6"/>
<rect x="98" y="754.21" width="180" height="1.29" fill="#4E9A88"/>
<rect x="98" y="755.20" width="180" height="1.29" fill="#4A5880"/>
<rect x="98" y="756.19" width="180" height="1.12" fill="#4A5880"/>
<rect x="98" y="757.01" width="180" height="6.06" fill="#E22119"/>
<rect x="98" y="762.78" width="180" height="1.12" fill="#4A5880"/>
<rect x="98" y="763.60" width="180" height="0.92" fill="#4E9A88"/>
<rect x="98" y="764.22" width="180" height="1.33" fill="#7CCDA6"/>
<rect x="98" y="765.25" width="180" height="1.12" fill="#4E9A88"/>
<rect x="98" y="766.07" width="180" height="1.12" fill="#4A5880"/>
<rect x="98" y="766.89" width="180" height="1.12" fill="#4A5880"/>
<rect x="98" y="767.71" width="180" height="5.24" fill="#E22119"/>
<rect x="98" y="772.65" width="180" height="1.12" fill="#4A5880"/>
<rect x="98" y="773.48" width="180" height="0.92" fill="#4E9A88"/>
<rect x="98" y="774.09" width="180" height="1.33" fill="#7CCDA6"/>
<rect x="98" y="775.12" width="180" height="1.12" fill="#4E9A88"/>
<rect x="98" y="775.95" width="180" height="1.12" fill="#4A5880"/>
<rect x="98" y="776.77" width="180" height="1.12" fill="#4A5880"/>
<rect x="98" y="777.59" width="180" height="5.24" fill="#E22119"/>
<rect x="98" y="782.53" width="180" height="1.12" fill="#4A5880"/>
<rect x="98" y="783.36" width="180" height="0.92" fill="#4E9A88"/>
<rect x="98" y="783.97" width="180" height="1.33" fill="#7CCDA6"/>
<rect x="98" y="785.00" width="180" height="1.12" fill="#4E9A88"/>
<rect x="98" y="785.82" width="180" height="1.12" fill="#4A5880"/>
<rect x="98" y="786.65" width="180" height="1.95" fill="#4A5880"/>
<rect x="98" y="788.29" width="180" height="2.77" fill="#E22119"/>
<rect x="98" y="790.76" width="180" height="1.12" fill="#4A5880"/>
<rect x="98" y="791.59" width="180" height="0.96" fill="#4A5880"/>
<rect x="98" y="792.25" width="180" height="0.79" fill="#4E9A88"/>
<rect x="98" y="792.74" width="180" height="1.12" fill="#7CCDA6"/>
<rect x="98" y="793.56" width="180" height="0.96" fill="#4E9A88"/>
<rect x="98" y="794.22" width="180" height="0.96" fill="#4A5880"/>
<rect x="98" y="794.88" width="180" height="1.12" fill="#4A5880"/>
<rect x="98" y="795.70" width="180" height="3.59" fill="#E22119"/>
<rect x="98" y="799.00" width="180" height="1.29" fill="#4A5880"/>
<rect x="98" y="799.98" width="180" height="1.04" fill="#4E9A88"/>
<rect x="98" y="800.72" width="180" height="1.53" fill="#7CCDA6"/>
<rect x="98" y="801.96" width="180" height="1.29" fill="#4E9A88"/>
<rect x="98" y="802.95" width="180" height="1.29" fill="#4A5880"/>
<rect x="98" y="803.93" width="180" height="1.37" fill="#E22119"/>
<rect x="98" y="805.00" width="180" height="6.30" fill="#E22119"/>
<rect x="98" y="811.00" width="180" height="0.90" fill="#4A5880"/>
<rect x="98" y="811.60" width="180" height="0.75" fill="#4E9A88"/>
<rect x="98" y="812.05" width="180" height="1.05" fill="#7CCDA6"/>
<rect x="98" y="812.80" width="180" height="0.90" fill="#4E9A88"/>
<rect x="98" y="813.40" width="180" height="0.90" fill="#4A5880"/>
<rect x="98" y="814.00" width="180" height="3.30" fill="#4A5880"/>
<rect x="98" y="817.00" width="180" height="4.30" fill="#E22119"/>
<rect x="98" y="821.00" width="180" height="2.30" fill="#4E9A88"/>
<rect x="98" y="823.00" width="180" height="4.30" fill="#4A5880"/>
<rect x="98" y="827.00" width="180" height="2.30" fill="#B83030"/>
<rect x="98" y="829.00" width="180" height="4.50" fill="#E22119"/>
</g>
<polyline points="103.2,189.1 114.7,191.6 122.9,194.1 127.9,196.5 132.0,197.8 129.5,199.5 122.9,201.5 114.7,203.4 109.8,204.4 108.9,206.4 110.6,208.9 114.7,210.5 136.9,211.3 114.7,212.2 108.1,213.3 107.3,216.3 107.8,219.6 106.5,222.9 104.0,226.2 102.3,228.6 104.8,231.9 106.5,234.4 109.8,236.0 105.6,237.4 119.6,238.5 131.2,239.7 122.9,241.0 113.0,242.6 122.9,243.9 133.6,245.6 121.3,247.2 136.1,248.9 139.4,250.0 129.5,251.2 122.9,253.3 114.7,255.5 139.4,256.6 157.5,257.4 162.4,259.1 168.2,260.4 162.4,261.6 139.4,263.2 113.0,264.8 122.9,266.0 139.4,268.1 151.7,269.8 137.7,273.1 144.3,274.7 172.3,275.9 197.0,277.2 203.6,279.7 210.2,282.1 197.0,284.6 164.1,287.9 131.2,289.5 113.0,291.2 115.5,293.7 113.0,296.1 123.8,297.8 114.7,299.4 104.8,301.1 114.7,302.2 155.9,303.5 174.0,305.2 178.9,307.7 188.8,309.3 197.8,311.3 172.3,313.4 139.4,315.1 109.8,315.9 104.8,317.5 103.2,321.6 102.3,329.9 102.8,338.1 104.0,340.8 104.8,348.2 104.5,356.5 105.6,369.6 104.8,382.8 105.1,396.0 108.1,400.9 105.6,404.2 113.0,407.8 106.5,410.0 111.4,411.6 106.5,413.3 119.6,415.7 108.1,417.4 129.5,419.4 138.6,422.3 136.1,429.7 114.7,433.0 131.2,434.2 147.6,436.3 150.1,439.6 157.5,443.7 152.6,447.0 125.4,448.2 152.6,449.0 155.9,450.0 180.5,451.6 170.7,455.2 173.1,458.5 162.4,461.8 169.0,463.5 195.4,464.3 231.6,467.1 233.2,470.1 226.6,474.2 205.2,476.6 174.0,480.8 183.8,484.9 177.3,488.2 162.4,492.3 175.6,496.1 169.0,495.0 178.9,496.6 190.4,498.6 182.2,500.8 192.1,502.9 179.7,505.2 178.9,508.2 170.7,510.6 173.1,513.1 167.4,515.6 166.6,518.9 169.0,521.3 178.9,525.5 172.3,527.9 159.1,529.6 157.5,532.0 167.4,533.7 188.8,535.3 183.8,537.0 195.4,540.8 182.2,542.7 169.0,546.0 170.7,552.6 175.6,555.9 188.8,558.4 193.7,560.9 197.0,562.5 215.1,565.0 239.0,568.6 216.8,572.4 188.8,575.7 206.9,578.1 188.8,579.8 212.7,583.6 185.5,585.2 160.8,586.9 134.5,588.8 103.2,593.0 101.5,593.8 122.9,596.3 164.1,598.7 196.2,601.2 169.0,602.8 174.0,604.5 146.8,605.6 182.2,607.4 170.7,608.6 167.4,611.1 175.6,612.2 233.2,614.4 243.1,618.5 218.4,620.9 174.0,623.4 178.9,626.7 190.4,627.0 182.2,630.0 240.6,632.0 192.1,636.6 208.5,639.9 233.2,644.0 211.8,646.8 254.6,649.8 267.8,654.9 254.6,656.6 210.2,658.2 244.8,661.9 205.2,664.8 195.4,667.3 198.7,671.4 203.6,675.5 209.4,678.8 155.9,680.1 116.3,681.3 108.1,683.8 137.7,685.4 113.0,687.0 113.0,689.5 155.9,690.3 167.4,693.6 155.9,697.7 113.0,699.1 121.3,700.2 109.8,701.9 141.0,703.0 111.4,704.3 108.1,706.8 122.9,708.9 109.8,710.6 155.9,712.2 169.8,714.2 155.9,716.7 113.0,718.3 109.8,720.8 111.4,724.9 155.9,726.6 174.0,729.4 155.9,731.5 111.4,732.3 110.6,734.8 114.7,737.3 109.8,739.7 113.0,743.8 152.6,744.7 111.4,747.1 110.6,750.4 113.0,752.1 169.0,754.1 111.4,756.2 110.6,759.5 113.0,762.8 164.1,765.2 111.4,767.2 110.6,771.0 113.0,773.5 161.6,775.1 111.4,777.6 110.6,780.9 113.0,783.4 152.6,784.7 111.4,786.6 110.6,789.9 113.0,791.6 150.9,792.9 111.4,794.9 110.6,797.3 114.7,799.8 155.9,801.1 111.4,803.9 110.6,810.0 111.4,811.0 132.8,813.0 111.4,815.2 110.6,818.4 113.0,820.9 130.3,822.9 111.4,825.0 110.6,831.6" fill="none" stroke="#000" stroke-width="1.4" stroke-linejoin="round"/>
<line x1="323" y1="233.8" x2="484" y2="233.8" stroke="#6E74C4" stroke-width="1.8"/>
<polyline points="331.4,191.6 331.4,192.8 331.3,193.9 330.7,195.1 333.0,196.3 330.5,197.5 332.1,198.6 332.2,199.8 333.6,201.1 331.4,202.3 333.0,203.5 333.0,204.8 334.2,206.0 334.7,207.2 337.8,208.9 343.8,210.5 334.7,211.3 332.3,212.6 330.6,213.8 334.1,215.0 336.3,216.3 335.6,217.7 335.9,219.0 334.7,220.4 335.3,221.6 338.0,222.9 336.8,224.5 337.2,226.2 338.1,227.8 341.3,229.5 334.7,230.3 333.1,231.5 331.4,232.7 332.5,234.1 331.3,235.4 331.7,236.7 330.4,238.0 330.6,239.3 331.7,240.6 330.2,241.8 331.2,243.0 332.2,244.3 332.3,245.5 332.1,246.7 330.8,248.0 330.6,249.2 330.0,250.4 331.1,251.7 331.6,252.9 333.0,254.1 332.1,255.5 333.3,256.8 331.2,258.1 332.9,259.4 331.4,260.7 334.8,262.0 334.6,263.2 337.8,264.4 340.5,265.7 333.0,266.5 331.9,267.9 329.4,269.2 329.8,270.6 330.4,271.9 332.6,273.2 331.1,274.6 333.3,275.9 333.9,277.2 332.9,278.5 334.4,279.8 335.6,281.1 333.6,282.5 334.7,283.8 332.8,285.0 332.6,286.3 333.6,287.5 333.0,288.7 333.2,290.4 336.3,292.0 333.4,293.2 333.0,294.3 332.7,295.5 329.5,296.6 328.1,297.8 331.1,299.0 334.7,300.2 346.2,301.9 334.7,302.7 335.9,304.1 335.1,305.5 337.2,306.8 337.3,308.0 335.9,309.2 337.1,310.4 338.1,311.5 335.2,312.7 336.6,313.9 336.3,315.1 338.0,316.7 359.4,317.5 364.2,319.2 368.4,320.8 364.5,322.1 362.7,323.3 362.8,324.9 364.3,326.6 361.7,328.2 356.1,329.9 361.7,331.5 364.3,333.2 362.4,334.4 363.3,335.6 363.2,336.9 361.0,338.1 364.4,339.8 369.3,341.4 362.7,340.0 365.5,341.2 367.6,342.5 368.7,343.8 372.2,345.2 375.0,346.6 359.4,348.2 370.9,349.9 370.2,351.1 368.7,352.3 368.0,353.6 366.0,354.8 356.9,356.5 369.3,358.1 368.9,359.3 370.5,360.6 372.8,361.8 372.6,363.0 372.4,364.3 371.6,365.5 371.0,366.8 370.9,368.0 378.3,370.0 366.0,371.3 370.7,372.9 372.6,374.6 372.0,375.8 369.5,377.0 371.0,378.3 369.3,379.5 371.2,380.7 374.0,382.0 375.8,383.2 379.1,384.5 378.2,385.7 377.0,386.9 375.4,388.2 375.9,389.4 374.2,390.6 370.5,391.9 370.5,393.1 367.6,394.3 369.4,396.2 373.5,398.3 350.5,400.9 366.1,401.6 373.5,403.2 359.5,405.3 375.1,406.5 337.3,408.2 359.5,409.0 380.1,410.6 351.7,411.9 369.4,412.7 389.1,414.1 337.3,414.9 361.2,416.0 388.3,418.0 369.4,418.9 331.5,419.5 344.7,420.5 346.3,422.2 345.1,423.4 347.5,424.6 347.7,425.9 346.9,427.1 347.7,428.3 347.2,429.6 346.3,431.2 368.1,433.0 348.0,433.3 327.8,434.5 344.7,436.2 347.2,437.8 346.7,439.1 348.4,440.4 347.7,441.7 347.3,443.1 348.4,444.4 347.9,445.6 348.4,446.9 366.9,448.7 348.8,449.2 329.1,449.5 343.9,450.1 326.2,452.2 344.7,454.1 348.8,455.9 348.0,457.3 348.6,458.6 348.8,460.0 346.1,461.3 344.7,462.5 340.1,463.9 337.3,465.4 344.7,465.8 345.3,467.4 346.3,469.1 348.0,470.3 348.6,471.5 349.3,472.8 349.6,474.0 349.2,475.2 350.0,476.5 349.6,477.7 349.5,479.0 349.5,480.2 349.9,481.4 351.5,482.7 351.4,483.9 351.5,485.1 351.6,486.4 350.5,487.6 350.9,488.8 351.7,490.1 352.0,491.3 352.4,492.5 352.6,493.8 352.0,495.0 351.2,496.2 352.3,497.4 352.5,498.6 352.2,499.8 351.6,501.0 352.3,502.2 351.6,503.4 353.3,504.6 353.3,505.8 352.7,507.0 352.2,508.3 353.5,509.5 352.9,510.7 353.6,511.9 353.6,513.1 353.0,514.3 352.8,515.5 353.3,516.7 353.0,517.9 352.5,519.1 352.9,520.3 353.9,521.5 352.5,522.7 352.5,523.9 353.7,525.1 353.1,526.3 353.7,527.5 353.6,528.7 353.4,529.9 354.8,531.1 353.2,532.3 353.7,533.5 353.4,534.8 354.3,536.0 353.6,537.2 353.9,538.4 354.7,539.6 353.9,540.8 354.4,542.0 355.2,543.2 354.5,544.4 353.8,545.7 353.8,546.9 354.3,548.2 355.5,549.5 355.3,550.7 354.7,552.0 355.0,553.3 354.8,554.5 355.5,555.8 354.8,557.1 356.2,558.3 356.8,559.6 356.1,560.9 356.6,562.1 355.7,563.3 355.8,564.6 353.5,565.8 353.6,567.0 354.6,568.3 353.8,569.5 352.8,570.7 353.9,572.0 356.2,573.2 356.8,574.4 357.7,575.7 358.1,577.0 356.8,578.4 356.3,579.8 356.5,581.2 355.6,582.5 356.1,583.9 356.5,585.3 358.4,586.6 357.8,588.0 357.9,589.4 358.6,590.8 360.2,592.1 370.9,594.3 360.2,595.4 359.4,596.8 360.5,598.2 359.5,599.5 359.2,600.9 358.7,602.3 359.4,603.7 354.5,602.0 354.0,603.4 351.6,604.8 349.8,606.1 348.1,607.5 346.7,608.9 346.2,610.2 352.8,611.9 353.4,613.1 355.6,614.4 355.8,615.6 357.7,616.8 355.8,618.1 355.7,619.3 354.2,620.5 353.6,621.8 359.2,623.4 362.7,625.1 361.3,626.4 361.4,627.7 361.3,629.0 359.9,630.3 359.4,631.6 361.2,632.9 361.0,634.1 361.3,635.4 362.7,636.6 361.8,637.9 360.4,639.2 360.6,640.5 359.5,641.9 359.4,643.2 361.0,644.4 361.7,645.6 361.9,646.9 362.7,648.1 361.0,650.0 359.1,651.2 358.6,652.5 357.6,653.7 356.6,654.9 355.7,656.2 355.3,657.4 357.9,658.8 358.4,660.2 361.0,661.5 360.6,662.8 362.7,664.0 362.4,665.2 362.7,666.5 364.1,667.8 363.3,669.2 364.7,670.6 364.6,672.0 365.3,673.3 365.2,674.7 365.7,673.3 365.3,672.0 364.8,673.4 363.4,674.8 363.2,676.2 363.2,677.7 363.6,679.2 362.5,680.8 368.2,681.6 405.0,682.6 460.2,684.5 422.0,685.6 376.7,685.9 354.0,686.2 405.0,687.3 436.9,688.3 422.0,689.3 376.7,689.8 337.0,690.4 355.4,692.3 361.1,693.2 362.5,695.4 360.4,697.5 346.9,697.9 390.8,699.2 414.9,700.3 432.6,701.7 390.8,702.5 339.8,703.2 390.8,704.3 422.0,705.7 448.9,708.1 390.8,709.1 341.2,710.0 376.7,710.5 401.4,711.4 362.5,711.9 343.4,712.4 355.4,713.8 362.5,715.2 365.3,717.0 352.6,717.6 419.2,718.5 424.8,719.9 439.0,720.9 420.6,721.9 457.4,723.3 419.2,724.7 458.1,726.1 405.0,726.4 332.0,726.5 366.7,728.9 365.3,731.5 369.6,732.6 437.6,734.0 444.6,736.0 410.7,737.9 447.5,738.6 457.4,739.7 431.9,740.7 466.6,742.8 405.0,743.5 340.5,744.5 376.7,745.7 444.6,747.8 453.1,749.2 443.2,750.4 461.6,751.4 405.0,751.8 339.1,752.8 362.5,754.6 368.2,755.2 419.2,756.0 454.6,757.7 460.2,760.6 470.1,762.7 405.0,763.4 343.4,763.8 366.7,766.0 369.6,767.0 447.5,767.9 463.1,770.5 456.0,772.6 405.0,774.0 344.8,774.5 366.7,776.2 447.5,777.9 456.0,779.7 471.6,782.1 480.1,783.2 405.0,784.0 342.7,784.7 365.3,786.1 433.3,787.5 470.1,789.6 478.6,791.5 405.0,792.5 358.2,793.2 390.8,793.9 458.8,795.7 470.1,798.5 475.8,800.2 405.0,800.9 360.4,801.4 390.8,802.8 460.2,805.2 465.9,807.3 461.6,809.4 474.4,809.0 481.5,810.9 419.2,812.3 392.9,813.0 433.3,814.4 480.8,816.5 478.6,819.4 481.5,821.5 419.2,822.2 404.3,822.9 433.3,823.8 475.0,825.8 483.3,827.1" fill="none" stroke="#000" stroke-width="1.3" stroke-linejoin="round"/>
<line x1="331.4" y1="233.6" x2="378.6" y2="833" stroke="#1010F0" stroke-width="1.5"/>
<polygon points="437.6,225.3 450.8,225.3 444.2,233.4" fill="#EAF2FA" stroke="#4B55B8" stroke-width="1"/>
<line x1="435" y1="234.5" x2="453" y2="234.5" stroke="#3A44B0" stroke-width="1.6"/>
<line x1="438" y1="237" x2="450.5" y2="237" stroke="#3A44B0" stroke-width="1.6"/>
<line x1="440" y1="239.3" x2="448.5" y2="239.3" stroke="#3A44B0" stroke-width="1.6"/>
<polygon points="484,274 472,279.8 484,285.5" fill="#FFF8CC" stroke="#E8E0B0" stroke-width="0.8"/>
<polygon points="484,445.5 472,451 484,457" fill="#FFF8CC" stroke="#E8E0B0" stroke-width="0.8"/>
<polygon points="484.8,827.5 474,833 484.8,838.6" fill="#DCA8EC" stroke="#C890D8" stroke-width="0.6"/>
<clipPath id="t2c"><rect x="322" y="189" width="163" height="644.2"/></clipPath>
<g clip-path="url(#t2c)">
<circle cx="331.6" cy="189" r="4.8" fill="#B8D4F2" stroke="#1A1AF0" stroke-width="1.4"/>
<circle cx="378.6" cy="833" r="4.8" fill="#B8D4F2" stroke="#1A1AF0" stroke-width="1.4"/>
</g>
<circle cx="331.4" cy="233.2" r="4.8" fill="#B8D4F2" stroke="#1A1AF0" stroke-width="1.4"/>
<circle cx="334.7" cy="278.8" r="4.8" fill="#F5EB0A" stroke="#1A1AF0" stroke-width="1.4"/>
<circle cx="348.7" cy="451.1" r="4.8" fill="#F5EB0A" stroke="#1A1AF0" stroke-width="1.4"/>
<polyline points="640.2,189.1 615.5,190.8 604.0,192.4 602.7,194.1 601.3,195.7 599.1,197.3 601.4,199.0 602.4,200.6 610.6,202.3 628.7,205.1 622.1,206.7 635.3,209.4 615.5,211.3 640.2,212.7 646.8,214.6 648.3,216.3 647.7,217.9 649.3,220.4 650.2,221.8 650.9,223.1 650.1,224.5 651.2,225.9 654.4,227.3 656.7,228.6 648.5,230.3 640.2,232.7 646.8,234.4 630.4,236.0 605.7,238.5 632.0,242.6 604.0,244.6 622.1,247.9 605.7,250.0 613.9,252.5 630.4,255.8 599.1,256.6 600.2,258.3 599.4,259.9 599.1,261.6 643.5,264.0 605.7,267.3 607.5,268.6 606.4,270.0 608.1,271.3 608.4,272.6 609.8,273.9 594.1,278.0 594.3,279.5 594.3,280.9 593.0,282.3 594.1,283.8 596.2,285.2 599.1,286.5 602.4,287.9 623.8,290.4 638.6,292.8 620.5,297.8 668.2,301.1 605.7,302.7 606.1,304.4 605.2,306.0 604.0,307.7 600.3,309.3 598.3,310.9 601.9,312.6 604.0,314.2 650.1,315.9 656.7,318.4 658.3,320.0 661.9,321.6 664.1,323.3 663.1,324.6 662.6,325.9 664.5,327.2 662.8,328.6 663.3,329.9 663.4,331.3 666.1,332.6 666.7,334.0 666.1,335.4 668.5,336.7 668.2,338.1 668.2,340.0 667.0,341.5 666.0,343.0 663.6,344.4 664.0,345.9 661.6,347.4 664.3,348.8 667.2,350.2 668.2,351.5 668.8,352.8 667.1,354.2 666.9,355.5 666.1,356.8 666.6,358.1 665.4,359.4 664.9,360.7 665.1,362.1 665.5,363.4 664.9,364.7 664.0,366.1 665.9,367.4 665.4,368.8 665.6,370.2 667.1,371.6 666.6,372.9 666.3,374.3 665.7,375.7 665.8,377.2 666.1,378.6 664.3,380.0 666.3,381.4 664.9,382.8 664.1,384.2 666.1,385.5 666.6,386.9 664.9,388.3 667.0,389.7 666.6,391.0 666.5,392.4 667.3,393.8 666.2,395.2 666.6,396.5 667.2,397.9 668.2,399.3 655.1,401.2 661.6,403.4 656.7,405.9 641.9,407.5 661.6,409.1 641.9,411.6 665.8,413.3 640.2,414.9 666.6,417.4 632.0,419.4 632.0,420.9 629.1,422.4 628.7,424.0 630.3,425.3 631.7,426.6 632.7,427.9 632.3,429.2 633.7,430.5 655.9,433.0 627.1,434.2 626.2,435.7 626.0,437.2 625.4,438.8 626.1,440.3 624.5,441.7 626.0,443.2 626.1,444.7 625.4,446.2 650.1,447.8 623.8,449.0 610.6,452.0 618.8,454.4 620.2,455.9 618.7,457.4 621.4,458.9 619.8,460.3 621.3,461.8 615.6,463.5 610.6,465.1 609.2,466.8 608.3,468.4 605.7,470.1 606.6,471.4 609.3,472.7 609.7,474.0 610.5,475.3 612.3,476.6 611.5,478.0 610.8,479.3 610.3,480.6 610.1,481.9 610.6,483.2 612.2,484.6 614.0,486.0 613.1,487.3 613.9,488.7 617.3,490.1 617.2,491.5 615.6,493.2 613.9,495.0 612.6,496.4 611.1,497.7 610.6,499.1 612.2,500.5 614.1,501.9 614.7,503.2 615.1,504.5 615.5,505.9 615.1,507.2 617.7,508.5 617.2,509.8 616.2,511.2 617.5,512.6 618.4,513.9 616.9,515.3 618.4,516.7 618.0,518.0 618.8,519.4 617.8,520.8 617.9,522.2 616.0,523.5 616.5,524.9 616.4,526.3 617.5,527.7 621.0,529.0 622.1,530.4 618.9,531.8 616.5,533.1 613.9,534.5 615.3,536.0 615.2,537.4 615.7,538.8 614.7,540.3 615.8,541.7 617.2,543.2 619.0,544.6 619.7,546.0 619.2,547.4 618.3,548.8 618.2,550.2 617.2,551.5 617.3,552.9 617.2,554.3 617.7,555.6 617.0,556.9 615.5,558.2 614.6,559.5 613.9,560.9 612.0,562.2 610.0,563.5 608.9,564.8 608.7,566.1 606.5,567.4 608.5,569.1 608.4,570.7 609.8,572.4 611.7,574.0 612.3,575.7 613.5,577.3 613.8,579.0 613.9,580.6 611.4,582.3 608.1,583.9 622.1,588.0 646.8,590.5 698.7,593.5 646.8,595.4 618.0,598.7 620.6,600.1 621.5,601.5 623.8,602.8 629.2,604.3 633.7,605.8 617.2,607.8 620.0,609.4 623.8,611.1 610.6,612.7 610.6,614.2 611.3,615.7 611.1,617.2 610.1,618.6 610.6,620.1 617.0,621.8 621.3,623.4 621.4,625.1 621.0,626.7 620.5,628.4 614.0,630.0 609.8,631.6 612.9,633.3 615.2,634.9 618.8,636.6 617.8,637.9 615.8,639.2 615.2,640.5 613.3,641.9 611.4,643.2 614.1,644.5 614.9,645.9 617.2,647.3 614.7,648.6 611.4,650.0 611.5,651.6 611.1,653.3 609.8,654.9 612.4,656.3 616.6,657.7 618.8,659.1 619.9,660.5 619.6,662.0 620.5,663.5 620.6,665.0 619.7,666.5 619.5,667.8 619.4,669.1 618.4,670.4 619.8,671.7 618.8,673.0 619.5,674.5 618.0,675.9 618.1,677.4 617.2,678.8 643.5,680.5 666.6,681.3 656.7,682.9 678.1,684.2 641.9,684.9 671.5,687.0 673.2,689.5 635.3,689.8 635.8,691.3 635.9,692.7 634.5,694.1 636.0,695.5 635.3,696.9 656.7,698.6 679.8,701.0 638.6,702.7 683.1,706.0 656.7,708.4 685.5,710.6 633.7,712.2 634.7,714.0 635.3,715.9 660.0,717.5 671.5,719.1 670.3,720.8 668.0,722.4 666.6,724.1 679.8,725.7 635.3,726.6 636.2,727.9 637.1,729.3 637.0,730.7 663.3,733.1 678.1,734.0 664.9,737.3 679.8,738.9 679.0,740.3 678.1,741.6 676.5,743.0 637.0,744.2 683.1,747.1 661.6,748.8 678.1,752.1 634.5,753.7 663.3,758.7 665.5,760.0 669.1,761.4 673.2,762.8 638.6,764.4 680.6,767.7 666.6,770.2 675.6,772.7 635.3,774.3 678.1,776.8 673.9,778.4 669.9,780.1 673.5,781.7 676.5,783.4 638.6,784.7 678.1,788.3 664.9,790.8 679.8,791.6 640.2,792.9 676.5,796.5 666.6,799.0 678.1,800.1 638.6,800.6 679.8,803.9 666.6,806.4 669.9,807.7 673.3,809.4 678.1,811.0 645.2,813.0 673.2,816.0 671.4,817.3 669.1,818.7 666.6,820.1 646.8,822.6 674.8,825.0 668.2,827.5 669.6,829.1 673.2,830.8 669.9,832.1 679.8,831.9" fill="none" stroke="#000" stroke-width="1.3" stroke-linejoin="round"/>
<polyline points="912.9,192.4 903.0,192.4 911.2,193.2 893.9,194.4 911.2,195.2 886.5,196.9 912.0,198.2 860.2,200.1 789.4,202.3 912.9,203.1 825.6,205.6 769.6,205.6 758.1,208.0 784.5,210.5 755.6,210.5 759.8,212.2 797.6,214.3 781.2,215.5 779.5,217.9 783.6,219.6 777.9,220.4 775.9,222.5 774.6,224.5 775.1,226.6 777.0,228.6 780.0,228.3 790.0,230.0 796.7,231.2 800.0,233.3 805.0,234.6 821.7,235.2 804.2,237.1 818.3,237.3 830.0,238.8 850.8,239.8 857.5,240.7 850.8,241.7 823.3,243.3 834.2,242.9 850.8,244.6 859.2,245.4 865.4,247.1 845.0,248.8 863.3,250.0 870.4,250.8 860.8,252.5 878.3,253.2 863.3,253.8 872.5,255.0 844.2,256.2 867.5,257.1 879.2,258.3 871.7,260.0 870.0,262.5 856.7,263.8 808.8,265.6 836.7,266.7 861.7,267.9 855.0,269.2 858.6,270.8 861.7,272.5 855.8,274.6 863.8,275.8 850.8,277.5 842.5,279.2 836.2,280.8 831.7,282.5 828.4,284.6 825.0,286.7 821.7,288.8 812.5,290.0 801.7,291.7 794.2,292.9 791.8,294.8 790.0,296.7 800.0,298.3 782.5,301.0 800.8,302.5 807.5,304.6 805.9,303.5 805.3,305.2 806.5,306.8 805.9,308.5 807.0,310.1 807.5,311.8 792.7,315.1 772.9,316.7 778.7,317.5 769.6,320.0 768.6,321.6 768.5,323.3 769.0,324.9 769.6,326.6 768.8,328.2 767.7,329.9 767.6,331.5 768.1,333.2 768.4,334.8 767.2,336.5 767.3,338.2 767.2,340.0 766.5,341.6 767.1,343.3 764.8,344.9 765.9,346.6 764.7,348.2 764.4,349.9 764.3,351.5 764.4,353.2 765.0,354.8 765.5,356.5 766.0,357.9 764.5,359.4 765.1,360.9 765.1,362.3 764.3,363.8 764.5,365.2 763.4,366.7 763.2,368.2 763.9,369.6 763.4,371.1 764.4,372.6 764.0,374.0 763.9,375.5 764.5,377.0 764.3,378.4 764.1,379.9 765.2,381.3 764.7,382.8 764.9,384.5 763.8,386.1 764.2,387.7 763.9,389.4 764.4,390.8 765.6,392.2 765.7,393.6 765.3,395.0 767.2,396.4 765.9,397.9 767.2,399.3 767.2,400.9 768.1,402.6 767.1,404.2 768.0,405.9 768.5,407.5 768.2,409.1 769.6,410.8 769.6,412.2 769.3,413.7 768.5,415.1 768.0,416.6 772.9,417.4 775.5,418.8 776.3,420.3 778.9,421.7 780.3,423.1 780.3,424.6 780.1,426.0 779.6,427.5 779.5,428.9 777.3,430.5 773.8,432.2 778.3,433.8 781.2,435.5 781.3,437.1 781.8,438.8 780.8,440.4 782.2,442.1 782.0,443.7 778.7,445.3 775.8,446.8 771.3,448.3 777.9,449.5 781.8,451.5 784.5,453.6 786.1,456.1 784.4,457.5 783.4,458.9 782.7,460.4 781.2,461.8 783.5,463.5 787.7,465.1 790.1,466.8 792.7,468.4 793.1,470.1 794.1,471.7 796.0,473.4 793.4,475.0 793.2,476.6 791.0,478.3 790.5,479.9 790.9,481.6 791.4,483.2 791.9,484.9 792.2,486.5 790.2,488.2 790.5,489.8 790.2,491.5 792.2,493.1 794.8,494.8 796.0,496.4 792.7,495.0 796.0,497.0 791.9,498.3 792.2,499.9 792.0,501.6 791.0,503.2 788.9,505.3 787.7,507.3 788.0,509.4 788.6,511.5 787.7,513.1 788.1,514.8 787.6,516.4 786.1,518.0 785.6,519.7 785.9,521.3 786.2,523.0 786.9,524.6 785.0,526.3 784.1,527.9 782.8,529.6 786.1,530.4 781.2,532.9 782.2,534.5 782.8,536.2 780.7,538.2 779.5,540.3 776.9,541.8 776.1,543.2 774.3,544.7 773.1,546.2 771.3,547.7 771.5,549.1 770.2,550.6 769.1,552.1 768.6,553.5 768.0,555.0 766.0,556.5 767.0,557.9 766.0,559.4 764.7,560.9 764.6,562.3 763.6,563.7 762.0,565.2 761.2,566.6 759.8,568.1 760.0,569.5 758.1,570.9 758.1,572.4 756.8,573.8 756.7,575.3 756.2,576.7 756.1,578.1 755.2,579.6 754.6,581.0 754.5,582.5 754.8,583.9 753.6,585.4 753.7,586.9 752.6,588.4 753.9,589.9 753.0,591.4 752.3,593.0 752.1,594.6 752.8,596.3 753.5,597.9 754.1,599.5 754.8,601.2 753.8,602.7 755.0,604.2 755.0,605.7 753.7,607.2 753.4,608.7 753.2,610.2 752.3,611.7 752.2,613.2 752.6,614.7 752.4,616.2 753.5,617.7 752.0,619.2 751.7,620.7 753.5,622.2 752.6,623.7 751.7,625.2 752.3,626.7 752.5,628.2 751.5,629.6 752.6,631.1 753.5,632.6 753.3,634.0 753.1,635.5 752.3,637.0 752.5,638.4 752.8,639.9 752.1,641.4 753.3,642.9 752.8,644.4 753.2,645.9 752.3,647.5 752.0,649.0 753.1,650.5 753.4,652.0 753.1,653.5 752.3,655.0 753.0,656.4 753.0,657.9 752.8,659.3 751.8,660.7 752.4,662.1 752.1,663.5 751.4,665.0 751.4,666.4 751.9,667.8 751.9,669.2 752.8,670.6 753.3,672.0 752.3,673.5 753.3,674.9 753.4,676.3 753.3,677.7 752.1,679.1 751.8,680.6 751.8,682.0 751.8,683.4 751.8,684.8 752.6,686.2 753.2,687.7 753.1,689.1 752.4,690.5 752.7,691.9 753.0,693.3 751.6,694.7 752.7,696.2 753.2,697.6 753.0,699.0 752.9,700.4 752.4,701.8 751.8,703.3 753.0,704.7 752.1,706.1 753.0,707.5 753.4,708.9 752.2,710.4 752.2,711.8 753.3,713.2 752.9,714.6 751.8,716.0 751.7,717.4 751.7,718.9 753.3,720.3 753.1,721.7 751.7,723.1 753.1,724.5 753.4,726.0 752.8,727.4 752.2,728.8 752.6,730.2 751.7,731.6 751.5,733.0 753.4,734.5 752.8,735.9 752.5,737.3 753.3,738.7 752.3,740.1 753.2,741.6 753.1,743.0 751.9,744.4 752.0,745.8 752.1,747.2 752.0,748.7 752.7,750.1 752.0,751.5 752.3,752.9 751.8,754.3 753.3,755.7 752.2,757.2 752.4,758.6 752.5,760.0 752.3,833.0" fill="none" stroke="#000" stroke-width="1.3" stroke-linejoin="round"/>
<line x1="1069.4" y1="210.2" x2="1128" y2="210.2" stroke="#000" stroke-width="1.6"/>
<line x1="1124.5" y1="208.1" x2="1128" y2="208.1" stroke="#000" stroke-width="1"/>
<polyline points="1127.9,575.1 1111.4,577.8 1091.6,579.4 1085.1,581.4 1058.7,585.5 1035.7,590.5 996.2,592.4 1020.9,594.6 1027.4,597.0 1035.7,600.3 1022.5,600.3 1065.3,601.2 1030.7,602.0 1027.4,605.3 1025.8,608.1 1015.9,610.7 1022.5,611.0 1021.7,616.0 1015.9,620.9 1006.0,622.6 1004.4,627.5 1008.5,632.4 999.5,636.6 1004.4,642.3 1001.1,648.9 1003.6,654.7 996.2,658.8 998.6,662.1 993.7,667.0 994.5,672.0 993.0,678.0 992.0,683.0 990.7,685.0 990.5,686.9 996.1,688.4 991.9,689.1 994.6,690.0 991.7,690.8 992.4,691.7 989.1,693.3 988.7,694.1 994.4,695.1 991.2,695.8 991.1,697.6 990.3,699.0 993.1,700.1 990.4,701.9 995.1,703.0 991.7,703.8 992.9,705.6 995.6,707.4 991.8,708.3 989.4,710.2 990.2,711.8 993.0,712.7 995.8,714.4 991.0,714.9 996.9,716.6 991.3,717.2 997.2,718.9 991.7,719.4 998.3,720.4 991.5,721.2 996.3,723.1 992.2,723.9 990.0,724.8 990.4,725.9 995.2,727.1 991.4,727.8 990.9,729.3 991.4,731.3 995.4,733.1 992.5,734.0 997.5,735.1 991.3,735.9 991.5,737.9 995.0,739.2 991.4,740.1 997.8,741.7 991.5,742.4 989.4,743.4 992.5,744.5 998.1,746.0 990.9,746.5 989.3,747.6 991.4,748.7 992.7,749.6 991.9,751.6 995.0,753.1 992.7,753.5 989.2,755.1 992.0,756.7 989.4,757.9 992.7,759.3 992.0,761.0 991.5,762.9 990.5,764.8 991.1,766.6 991.1,768.1 996.8,769.6 992.4,770.5 991.7,772.2 992.2,773.7 988.9,774.6 989.7,776.1 991.3,777.8 994.6,779.7 992.0,780.2 997.8,781.3 991.5,782.0 996.9,783.9 991.5,784.4 992.3,786.1 990.1,787.4 992.1,788.4 992.6,790.2 996.2,791.3 991.0,791.8 990.8,793.1 992.7,794.3 994.7,795.7 990.7,796.5 990.0,798.2 995.1,799.9 990.6,800.5 995.1,802.3 991.9,802.7 991.4,804.1 991.5,805.9 989.5,806.9 991.7,807.7 995.8,808.7 991.6,809.5 990.4,811.0 989.1,812.8 989.3,814.7 992.4,816.0 992.3,817.3 990.7,819.0 997.1,820.6 991.9,821.4 996.0,822.0 966.5,822.0" fill="none" stroke="#000" stroke-width="1.5" stroke-linejoin="round"/>
<path d="M90.5,189.0 H270.5 V833.2 H90.5" fill="none" stroke="#111" stroke-width="1.7"/>
<line x1="98.5" y1="189.0" x2="98.5" y2="833.2" stroke="#111" stroke-width="1.7"/>
<path d="M314.0,189.0 H485.0 V833.2 H314.0" fill="none" stroke="#111" stroke-width="1.7"/>
<line x1="322.0" y1="189.0" x2="322.0" y2="833.2" stroke="#111" stroke-width="1.7"/>
<path d="M528.8,189.0 H699.8 V833.2 H528.8" fill="none" stroke="#111" stroke-width="1.7"/>
<line x1="536.8" y1="189.0" x2="536.8" y2="833.2" stroke="#111" stroke-width="1.7"/>
<path d="M743.5,189.0 H914.5 V833.2 H743.5" fill="none" stroke="#111" stroke-width="1.7"/>
<line x1="751.5" y1="189.0" x2="751.5" y2="833.2" stroke="#111" stroke-width="1.7"/>
<path d="M958.3,189.0 H1129.3 V833.2 H958.3" fill="none" stroke="#111" stroke-width="1.7"/>
<line x1="966.3" y1="189.0" x2="966.3" y2="833.2" stroke="#111" stroke-width="1.7"/>
<text x="168.0" y="860.5" font-size="12" fill="#111" textLength="60.5" lengthAdjust="spacingAndGlyphs" stroke="#111" stroke-width="0.22">Max Depth:</text>
<text x="232.3" y="860.5" font-size="12" fill="#1414F0" textLength="109.5" lengthAdjust="spacingAndGlyphs" stroke="#1414F0" stroke-width="0.22">50.000 m / 164.04 ft</text>
<text x="168.0" y="875.5" font-size="12" fill="#111" textLength="53.0" lengthAdjust="spacingAndGlyphs" stroke="#111" stroke-width="0.22">Depth Inc:</text>
<text x="225.3" y="875.5" font-size="12" fill="#1414F0" textLength="95.5" lengthAdjust="spacingAndGlyphs" stroke="#1414F0" stroke-width="0.22">0.025 m / 0.082 ft</text>
<text x="168.0" y="890.5" font-size="12" fill="#111" textLength="41.0" lengthAdjust="spacingAndGlyphs" stroke="#111" stroke-width="0.22">Avg Int:</text>
<text x="213.0" y="890.5" font-size="12" fill="#1414F0" textLength="61.0" lengthAdjust="spacingAndGlyphs" stroke="#1414F0" stroke-width="0.22">Every Point</text>
<text x="166.3" y="906.0" font-size="12" fill="#111" textLength="74.0" lengthAdjust="spacingAndGlyphs" stroke="#111" stroke-width="0.22">Overplot Item:</text>
<text x="409.0" y="860.5" font-size="12" fill="#111" textLength="20.5" lengthAdjust="spacingAndGlyphs" stroke="#111" stroke-width="0.22">File:</text>
<text x="433.8" y="860.5" font-size="12" fill="#1414F0" textLength="122.5" lengthAdjust="spacingAndGlyphs" stroke="#1414F0" stroke-width="0.22">17-02000_RP001.COR</text>
<text x="409.0" y="875.5" font-size="12" fill="#111" textLength="40.0" lengthAdjust="spacingAndGlyphs" stroke="#111" stroke-width="0.22">Unit Wt:</text>
<text x="453.5" y="875.5" font-size="12" fill="#1414F0" textLength="105.0" lengthAdjust="spacingAndGlyphs" stroke="#1414F0" stroke-width="0.22">SBTQtn (PKR2009)</text>
<text x="764.8" y="860.5" font-size="12" fill="#111" textLength="25.0" lengthAdjust="spacingAndGlyphs" stroke="#111" stroke-width="0.22">SBT:</text>
<text x="794.5" y="860.5" font-size="12" fill="#1414F0" textLength="145.0" lengthAdjust="spacingAndGlyphs" stroke="#1414F0" stroke-width="0.22">Robertson, 2009 and 2010</text>
<text x="764.8" y="876.0" font-size="12" fill="#111" textLength="52.0" lengthAdjust="spacingAndGlyphs" stroke="#111" stroke-width="0.22">Sheet No:</text>
<text x="821.8" y="876.0" font-size="12" fill="#1414F0" textLength="30.5" lengthAdjust="spacingAndGlyphs" stroke="#1414F0" stroke-width="0.22">1 of 1</text>
<circle cx="299.5" cy="902" r="4.8" fill="#B4D2F0" stroke="#3A44D0" stroke-width="1.2"/>
<circle cx="299.5" cy="917.3" r="4.8" fill="#F5EB0A" stroke="#3A44D0" stroke-width="1.2"/>
<text x="309.5" y="906.0" font-size="12" fill="#111" textLength="76.5" lengthAdjust="spacingAndGlyphs" stroke="#111" stroke-width="0.22">Assumed Ueq</text>
<text x="309.5" y="921.2" font-size="12" fill="#111" stroke="#111" stroke-width="0.22">Ueq</text>
<polygon points="425.5,896.5 414,902.3 425.5,908" fill="#FFF8CC" stroke="#555" stroke-width="1"/>
<polygon points="425.5,911.8 414,917.5 425.5,923.2" fill="#DCA8EC" stroke="#555" stroke-width="1"/>
<text x="437.0" y="906.0" font-size="12" fill="#111" textLength="174.8" lengthAdjust="spacingAndGlyphs" stroke="#111" stroke-width="0.22">Dissipation, equilibrium achieved</text>
<text x="437.0" y="921.2" font-size="12" fill="#111" textLength="195.5" lengthAdjust="spacingAndGlyphs" stroke="#111" stroke-width="0.22">Dissipation, equilibrium not achieved</text>
<line x1="654.5" y1="902" x2="704" y2="902" stroke="#1A1AF0" stroke-width="1.2"/>
<text x="714.5" y="906.5" font-size="12" fill="#111" textLength="88.0" lengthAdjust="spacingAndGlyphs" stroke="#111" stroke-width="0.22">Hydrostatic Line</text>
</svg></body></html>
